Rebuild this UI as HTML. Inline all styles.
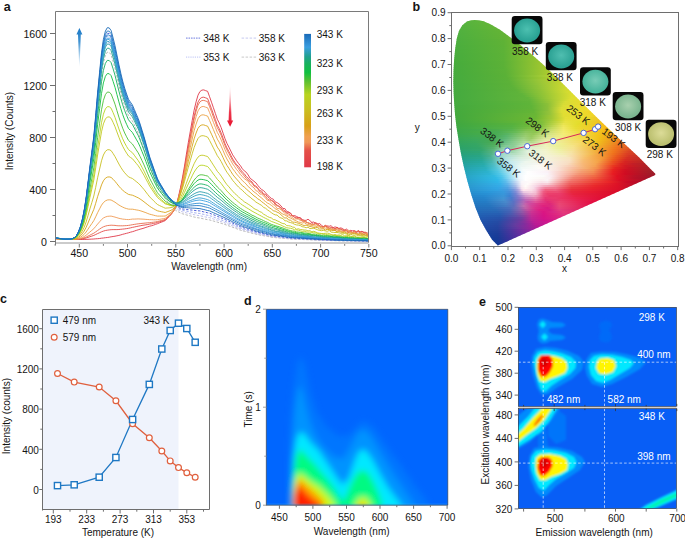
<!DOCTYPE html>
<html><head><meta charset="utf-8"><style>
html,body{margin:0;padding:0;background:#fff;}
svg{display:block;font-family:"Liberation Sans", sans-serif;}
</style></head><body>
<svg width="685" height="539" viewBox="0 0 685 539">
<rect width="685" height="539" fill="#fff"/>
<text x="3.8" y="11.2" font-size="12.5" text-anchor="start" fill="#141414" font-weight="bold" >a</text>
<defs><clipPath id="clipa"><rect x="55.5" y="11.5" width="313.0" height="231.5"/></clipPath></defs>
<g clip-path="url(#clipa)" fill="none" stroke-width="0.9" stroke-linejoin="round">
<polyline points="55.2,238.4 57.1,238.7 59,238.9 61,239.2 62.9,239.3 64.8,239.5 66.8,239.5 68.7,239.5 70.6,239.3 72.5,239 74.5,238 76.4,236.4 78.3,233.3 80.3,228.7 82.2,222.5 84.1,214.4 86.1,203 88,189.4 89.9,175.4 91.8,162.3 93.8,148.3 95.7,129.9 97.6,110 99.6,91.7 101.5,74.5 103.4,62.6 105.4,55.2 107.3,52.2 109.2,52.4 111.1,54.7 113.1,61.4 115,68.2 116.9,76.4 118.9,85 120.8,92.7 122.7,99.6 124.7,105.9 126.6,111.1 128.5,115.8 130.4,118.4 132.4,120.9 134.3,124.8 136.2,128.9 138.2,133 140.1,137.9 142,143.4 144,149.1 145.9,155.1 147.8,161.1 149.7,167.2 151.7,172.2 153.6,177 155.5,181.8 157.5,186.6 159.4,189.7 161.3,192.7 163.3,195.7 165.2,198.6 167.1,200.9 169,203.2 171,205.6 172.9,207.5 174.8,209.3 176.8,211.1 178.7,212 180.6,213 182.6,213.8 184.5,214.3 186.4,214.9 188.3,215.4 190.3,215.9 192.2,216.5 194.1,217 196.1,217.4 198,217.8 199.9,218 201.9,218.5 203.8,218.9 205.7,219.3 207.6,219.7 209.6,219.9 211.5,220.5 213.4,221 215.4,221.6 217.3,222.1 219.2,222.8 221.2,223.3 223.1,223.9 225,224.5 226.9,225.2 228.9,225.9 230.8,226.6 232.7,227.3 234.7,228 236.6,228.7 238.5,229.5 240.5,230.2 242.4,230.8 244.3,231.2 246.2,231.7 248.2,232.2 250.1,232.7 252,233.2 254,233.7 255.9,234.1 257.8,234.6 259.8,235 261.7,235.4 263.6,235.7 265.5,236.1 267.5,236.4 269.4,236.8 271.3,237.2 273.3,237.4 275.2,237.6 277.1,237.8 279.1,237.9 281,238.1 282.9,238.3 284.8,238.4 286.8,238.6 288.7,238.8 290.6,239 292.6,239.1 294.5,239.2 296.4,239.3 298.4,239.3 300.3,239.4 302.2,239.5 304.1,239.6 306.1,239.7 308,239.7 309.9,239.8 311.9,239.9 313.8,240 315.7,240.1 317.7,240.2 319.6,240.3 321.5,240.3 323.4,240.4 325.4,240.4 327.3,240.5 329.2,240.5 331.2,240.6 333.1,240.6 335,240.7 337,240.7 338.9,240.8 340.8,240.8 342.7,240.9 344.7,240.9 346.6,240.9 348.5,241 350.5,241 352.4,241 354.3,241 356.3,241.1 358.2,241.1 360.1,241.1 362,241.2 364,241.2 365.9,241.2 367.8,241.2" stroke="#b0b0b0" stroke-dasharray="2.5,1.5"/>
<polyline points="55.2,238.2 57.1,238.5 59,238.8 61,239 62.9,239.2 64.8,239.4 66.8,239.4 68.7,239.4 70.6,239.2 72.5,238.8 74.5,237.8 76.4,236.1 78.3,232.9 80.3,228 82.2,221.5 84.1,213 86.1,201 88,186.7 89.9,172 91.8,158.2 93.8,143.6 95.7,124.2 97.6,103.2 99.6,84 101.5,66 103.4,53.4 105.4,45.7 107.3,42.5 109.2,42.7 111.1,45.2 113.1,52.1 115,59.4 116.9,67.9 118.9,77 120.8,85.1 122.7,92.3 124.7,99 126.6,104.4 128.5,109.4 130.4,112 132.4,114.7 134.3,118.8 136.2,123.1 138.2,127.3 140.1,132.5 142,138.3 144,144.3 145.9,150.6 147.8,156.9 149.7,163.2 151.7,168.6 153.6,173.6 155.5,178.7 157.5,183.7 159.4,186.9 161.3,190.1 163.3,193.2 165.2,196.3 167.1,198.7 169,201.1 171,203.5 172.9,205.5 174.8,207.5 176.8,209.2 178.7,210.2 180.6,211.2 182.6,211.9 184.5,212.4 186.4,212.9 188.3,213.3 190.3,213.8 192.2,214.3 194.1,214.7 196.1,215.1 198,215.5 199.9,215.7 201.9,216.2 203.8,216.6 205.7,217 207.6,217.4 209.6,217.7 211.5,218.3 213.4,219 215.4,219.6 217.3,220.2 219.2,220.9 221.2,221.6 223.1,222.2 225,222.9 226.9,223.6 228.9,224.4 230.8,225.1 232.7,225.9 234.7,226.7 236.6,227.5 238.5,228.2 240.5,229 242.4,229.7 244.3,230.2 246.2,230.7 248.2,231.2 250.1,231.7 252,232.3 254,232.8 255.9,233.3 257.8,233.9 259.8,234.3 261.7,234.6 263.6,235 265.5,235.4 267.5,235.8 269.4,236.2 271.3,236.6 273.3,236.9 275.2,237.1 277.1,237.3 279.1,237.5 281,237.7 282.9,237.9 284.8,238 286.8,238.2 288.7,238.4 290.6,238.7 292.6,238.8 294.5,238.9 296.4,239 298.4,239 300.3,239.1 302.2,239.2 304.1,239.3 306.1,239.4 308,239.5 309.9,239.6 311.9,239.7 313.8,239.8 315.7,239.9 317.7,240 319.6,240.1 321.5,240.1 323.4,240.2 325.4,240.2 327.3,240.3 329.2,240.4 331.2,240.4 333.1,240.5 335,240.5 337,240.6 338.9,240.6 340.8,240.7 342.7,240.7 344.7,240.8 346.6,240.8 348.5,240.8 350.5,240.9 352.4,240.9 354.3,240.9 356.3,241 358.2,241 360.1,241 362,241.1 364,241.1 365.9,241.1 367.8,241.1" stroke="#b9b9e6" stroke-dasharray="2.5,1.5"/>
<polyline points="55.2,238.1 57.1,238.4 59,238.7 61,238.9 62.9,239.1 64.8,239.3 66.8,239.3 68.7,239.3 70.6,239.1 72.5,238.7 74.5,237.7 76.4,235.9 78.3,232.6 80.3,227.6 82.2,220.8 84.1,212.1 86.1,199.7 88,184.9 89.9,169.8 91.8,155.5 93.8,140.4 95.7,120.4 97.6,98.8 99.6,78.9 101.5,60.3 103.4,47.3 105.4,39.4 107.3,36.1 109.2,36.3 111.1,38.8 113.1,46 115,53.4 116.9,62.3 118.9,71.6 120.8,79.9 122.7,87.5 124.7,94.3 126.6,99.9 128.5,105 130.4,107.8 132.4,110.5 134.3,114.7 136.2,119.1 138.2,123.6 140.1,128.9 142,134.8 144,141 145.9,147.5 147.8,154.1 149.7,160.6 151.7,166.1 153.6,171.3 155.5,176.5 157.5,181.7 159.4,185 161.3,188.2 163.3,191.5 165.2,194.6 167.1,197.1 169,199.6 171,202.1 172.9,204.1 174.8,206.1 176.8,207.8 178.7,208.8 180.6,209.7 182.6,210.4 184.5,210.7 186.4,211.1 188.3,211.5 190.3,211.9 192.2,212.3 194.1,212.7 196.1,213 198,213.3 199.9,213.5 201.9,214 203.8,214.4 205.7,214.9 207.6,215.3 209.6,215.6 211.5,216.3 213.4,217 215.4,217.7 217.3,218.4 219.2,219.2 221.2,219.9 223.1,220.6 225,221.3 226.9,222.1 228.9,222.9 230.8,223.8 232.7,224.6 234.7,225.4 236.6,226.3 238.5,227.1 240.5,228 242.4,228.6 244.3,229.2 246.2,229.7 248.2,230.3 250.1,230.9 252,231.4 254,232 255.9,232.5 257.8,233.1 259.8,233.5 261.7,233.9 263.6,234.4 265.5,234.8 267.5,235.2 269.4,235.6 271.3,236.1 273.3,236.4 275.2,236.6 277.1,236.8 279.1,237 281,237.2 282.9,237.4 284.8,237.6 286.8,237.9 288.7,238.1 290.6,238.3 292.6,238.5 294.5,238.5 296.4,238.6 298.4,238.7 300.3,238.8 302.2,238.9 304.1,239 306.1,239.1 308,239.2 309.9,239.3 311.9,239.4 313.8,239.6 315.7,239.7 317.7,239.8 319.6,239.9 321.5,239.9 323.4,240 325.4,240.1 327.3,240.1 329.2,240.2 331.2,240.2 333.1,240.3 335,240.4 337,240.4 338.9,240.5 340.8,240.5 342.7,240.6 344.7,240.7 346.6,240.7 348.5,240.7 350.5,240.8 352.4,240.8 354.3,240.8 356.3,240.9 358.2,240.9 360.1,240.9 362,241 364,241 365.9,241 367.8,241.1" stroke="#9aa6ee" stroke-dasharray="2.5,1.5"/>
<polyline points="55.2,238 57.1,238.3 59,238.6 61,238.8 62.9,239 64.8,239.2 66.8,239.2 68.7,239.2 70.6,239.1 72.5,238.7 74.5,237.6 76.4,235.8 78.3,232.4 80.3,227.3 82.2,220.5 84.1,211.7 86.1,199.1 88,184.1 89.9,168.8 91.8,154.3 93.8,139 95.7,118.7 97.6,96.8 99.6,76.7 101.5,57.8 103.4,44.7 105.4,36.6 107.3,33.3 109.2,33.5 111.1,36 113.1,43.3 115,50.8 116.9,59.8 118.9,69.2 120.8,77.7 122.7,85.3 124.7,92.2 126.6,97.8 128.5,103.1 130.4,105.8 132.4,108.6 134.3,112.9 136.2,117.3 138.2,121.8 140.1,127.2 142,133.2 144,139.5 145.9,146.1 147.8,152.7 149.7,159.3 151.7,164.8 153.6,170.1 155.5,175.3 157.5,180.6 159.4,184 161.3,187.2 163.3,190.5 165.2,193.7 167.1,196.2 169,198.6 171,201.1 172.9,203.2 174.8,205.1 176.8,206.8 178.7,207.6 180.6,208.5 182.6,209 184.5,209.2 186.4,209.5 188.3,209.7 190.3,209.9 192.2,210.1 194.1,210.4 196.1,210.6 198,210.8 199.9,210.9 201.9,211.4 203.8,211.9 205.7,212.3 207.6,212.8 209.6,213.2 211.5,214 213.4,214.7 215.4,215.5 217.3,216.3 219.2,217.1 221.2,217.9 223.1,218.7 225,219.5 226.9,220.4 228.9,221.3 230.8,222.2 232.7,223.1 234.7,224 236.6,224.9 238.5,225.8 240.5,226.7 242.4,227.4 244.3,228 246.2,228.6 248.2,229.2 250.1,229.8 252,230.4 254,231 255.9,231.6 257.8,232.2 259.8,232.6 261.7,233.1 263.6,233.5 265.5,234 267.5,234.4 269.4,234.9 271.3,235.4 273.3,235.7 275.2,235.9 277.1,236.2 279.1,236.4 281,236.7 282.9,236.9 284.8,237.1 286.8,237.4 288.7,237.6 290.6,237.9 292.6,238 294.5,238.1 296.4,238.2 298.4,238.4 300.3,238.5 302.2,238.6 304.1,238.7 306.1,238.8 308,238.9 309.9,239 311.9,239.1 313.8,239.2 315.7,239.4 317.7,239.5 319.6,239.6 321.5,239.7 323.4,239.7 325.4,239.8 327.3,239.9 329.2,239.9 331.2,240 333.1,240.1 335,240.1 337,240.2 338.9,240.3 340.8,240.3 342.7,240.4 344.7,240.5 346.6,240.5 348.5,240.6 350.5,240.6 352.4,240.6 354.3,240.7 356.3,240.7 358.2,240.7 360.1,240.8 362,240.8 364,240.9 365.9,240.9 367.8,240.9" stroke="#3f51d6" stroke-dasharray="2.5,1.5"/>
<polyline points="55.2,238.6 57.1,238.7 59,238.8 61,239 62.9,239.1 64.8,239.2 66.8,239.2 68.7,239.3 70.6,239.3 72.5,239.4 74.5,239.4 76.4,239.5 78.3,239.5 80.3,239.5 82.2,239.5 84.1,239.4 86.1,239.4 88,239.3 89.9,239.2 91.8,239.1 93.8,239 95.7,238.8 97.6,238.7 99.6,238.5 101.5,238.2 103.4,238 105.4,237.7 107.3,237.5 109.2,237.2 111.1,236.8 113.1,236.5 115,236.2 116.9,235.8 118.9,235.4 120.8,234.9 122.7,234.3 124.7,233.8 126.6,233.3 128.5,232.8 130.4,232.2 132.4,231.7 134.3,231.1 136.2,230.4 138.2,229.8 140.1,229.2 142,228.7 144,228.1 145.9,227.4 147.8,226.8 149.7,226.2 151.7,225.7 153.6,225.1 155.5,224.4 157.5,223.7 159.4,222.9 161.3,222.2 163.3,221.4 165.2,220.6 167.1,218.6 169,216.6 171,214.4 172.9,211.8 174.8,208.5 176.8,203.4 178.7,195.7 180.6,187.2 182.6,176.9 184.5,166.1 186.4,154.2 188.3,142.6 190.3,131.3 192.2,120.5 194.1,110.3 196.1,101.8 198,95.2 199.9,91.6 201.9,90.1 203.8,89.9 205.7,90.7 207.6,91.3 209.6,96.8 211.5,102.2 213.4,107.7 215.4,113.5 217.3,119.2 219.2,122.9 221.2,127.7 223.1,133.2 225,138.7 226.9,143.3 228.9,147.1 230.8,151 232.7,154.9 234.7,157.9 236.6,160.8 238.5,163.4 240.5,165.8 242.4,168.8 244.3,170.9 246.2,172.2 248.2,175 250.1,178.3 252,179.7 254,181.3 255.9,182.8 257.8,185.4 259.8,187.7 261.7,189.6 263.6,190.6 265.5,192.7 267.5,195.1 269.4,196.6 271.3,198.4 273.3,199.2 275.2,201.9 277.1,202.6 279.1,204 281,205.9 282.9,208.5 284.8,208.5 286.8,211.6 288.7,211.9 290.6,214 292.6,215.9 294.5,215.5 296.4,216.4 298.4,217.4 300.3,217.9 302.2,219.4 304.1,220.3 306.1,220.4 308,219.2 309.9,220.7 311.9,222.4 313.8,222 315.7,223.5 317.7,224.1 319.6,223.5 321.5,225.3 323.4,226.7 325.4,226.4 327.3,225.9 329.2,226.3 331.2,225.7 333.1,227.8 335,226.9 337,227.5 338.9,228.4 340.8,227.9 342.7,228.6 344.7,230.3 346.6,228.9 348.5,231.4 350.5,230.4 352.4,230.8 354.3,230.6 356.3,231.9 358.2,231.6 360.1,232 362,231.2 364,233.1 365.9,232.6 367.8,233.2" stroke="#e03848"/>
<polyline points="55.2,238.7 57.1,238.8 59,238.9 61,239 62.9,239.1 64.8,239.2 66.8,239.3 68.7,239.3 70.6,239.3 72.5,239.4 74.5,239.4 76.4,239.4 78.3,239.3 80.3,239.1 82.2,238.8 84.1,238.5 86.1,238 88,237.4 89.9,236.7 91.8,236.1 93.8,235.4 95.7,234.5 97.6,233.6 99.6,232.7 101.5,231.8 103.4,231.1 105.4,230.5 107.3,230.2 109.2,229.9 111.1,229.7 113.1,229.6 115,229.6 116.9,229.6 118.9,229.5 120.8,229.3 122.7,229.1 124.7,228.9 126.6,228.6 128.5,228.3 130.4,227.9 132.4,227.4 134.3,227 136.2,226.6 138.2,226.2 140.1,225.8 142,225.4 144,225.1 145.9,224.8 147.8,224.5 149.7,224.1 151.7,223.8 153.6,223.4 155.5,223 157.5,222.4 159.4,221.9 161.3,221.3 163.3,220.7 165.2,220 167.1,218.2 169,216.4 171,214.4 172.9,212.1 174.8,209 176.8,204.3 178.7,197 180.6,189 182.6,179.3 184.5,169.1 186.4,157.8 188.3,146.9 190.3,136.3 192.2,126.1 194.1,116.4 196.1,108.4 198,102.1 199.9,98.8 201.9,97.4 203.8,97.2 205.7,97.9 207.6,98.6 209.6,103.7 211.5,108.8 213.4,114.1 215.4,119.6 217.3,125.1 219.2,128.5 221.2,133.1 223.1,138.3 225,143.6 226.9,147.9 228.9,151.5 230.8,155.3 232.7,158.9 234.7,162.1 236.6,164.7 238.5,166.3 240.5,169.5 242.4,172.1 244.3,173.7 246.2,176.5 248.2,178.2 250.1,180.7 252,181.9 254,185.2 255.9,186 257.8,188.1 259.8,190.7 261.7,191.1 263.6,194.1 265.5,194.3 267.5,196.7 269.4,198.3 271.3,200.2 273.3,201.2 275.2,204.7 277.1,204.9 279.1,206.9 281,207.8 282.9,209.6 284.8,210.7 286.8,213.2 288.7,212.3 290.6,213 292.6,216.1 294.5,217 296.4,217.6 298.4,217.6 300.3,217.8 302.2,221 304.1,221.3 306.1,222.2 308,222.8 309.9,223.8 311.9,222.6 313.8,224.5 315.7,222.7 317.7,223.8 319.6,226 321.5,226.6 323.4,226.6 325.4,225.2 327.3,227.6 329.2,228.5 331.2,227.6 333.1,227.6 335,228.9 337,227.2 338.9,228.8 340.8,228.9 342.7,230.5 344.7,230.2 346.6,230.6 348.5,232.9 350.5,230.8 352.4,233 354.3,231.6 356.3,233.2 358.2,230.2 360.1,232 362,231.8 364,232 365.9,234.4 367.8,235.5" stroke="#e34748"/>
<polyline points="55.2,238.7 57.1,238.8 59,238.9 61,239 62.9,239.1 64.8,239.2 66.8,239.3 68.7,239.3 70.6,239.3 72.5,239.4 74.5,239.4 76.4,239.3 78.3,239.2 80.3,238.9 82.2,238.4 84.1,237.8 86.1,237.1 88,236.1 89.9,235.2 91.8,234.2 93.8,233.2 95.7,231.9 97.6,230.5 99.6,229.1 101.5,227.8 103.4,226.8 105.4,226.1 107.3,225.6 109.2,225.4 111.1,225.2 113.1,225.3 115,225.4 116.9,225.7 118.9,225.8 120.8,225.8 122.7,225.8 124.7,225.7 126.6,225.6 128.5,225.4 130.4,225.1 132.4,224.7 134.3,224.4 136.2,224.1 138.2,223.8 140.1,223.6 142,223.4 144,223.2 145.9,223 147.8,222.8 149.7,222.7 151.7,222.4 153.6,222.2 155.5,221.9 157.5,221.5 159.4,221 161.3,220.5 163.3,220 165.2,219.5 167.1,217.8 169,216.1 171,214.2 172.9,212 174.8,209 176.8,204.5 178.7,197.4 180.6,189.6 182.6,180.2 184.5,170.3 186.4,159.3 188.3,148.7 190.3,138.3 192.2,128.4 194.1,119 196.1,111.2 198,105.1 199.9,101.9 201.9,100.5 203.8,100.4 205.7,101 207.6,101.7 209.6,106.7 211.5,111.7 213.4,116.9 215.4,122.2 217.3,127.6 219.2,131 221.2,135.4 223.1,140.5 225,145.6 226.9,149.8 228.9,153.5 230.8,157 232.7,160.7 234.7,163.6 236.6,165.9 238.5,168.7 240.5,171.8 242.4,173.6 244.3,176 246.2,178.4 248.2,180.3 250.1,181.7 252,183.2 254,186 255.9,187.1 257.8,188.7 259.8,191.8 261.7,192.9 263.6,194.6 265.5,196.2 267.5,199.1 269.4,199.9 271.3,200.5 273.3,201.9 275.2,203 277.1,206 279.1,205.9 281,208.3 282.9,211.3 284.8,211.3 286.8,213.5 288.7,213.9 290.6,215.5 292.6,215.6 294.5,217.4 296.4,218.6 298.4,218.4 300.3,219.6 302.2,220.9 304.1,220.2 306.1,222.1 308,222.8 309.9,223.3 311.9,224.6 313.8,224.4 315.7,222.9 317.7,225.7 319.6,225.5 321.5,227 323.4,227 325.4,225.5 327.3,226.4 329.2,228.1 331.2,227.9 333.1,229 335,229.3 337,229.8 338.9,230.1 340.8,229.4 342.7,229.5 344.7,230 346.6,230.9 348.5,232.3 350.5,231.4 352.4,232.4 354.3,231 356.3,231.5 358.2,231.6 360.1,232.9 362,234.5 364,232.2 365.9,232.2 367.8,235" stroke="#e96d4e"/>
<polyline points="55.2,238.6 57.1,238.8 59,238.9 61,239 62.9,239.1 64.8,239.2 66.8,239.3 68.7,239.3 70.6,239.3 72.5,239.4 74.5,239.3 76.4,239.1 78.3,238.8 80.3,238.3 82.2,237.6 84.1,236.6 86.1,235.2 88,233.6 89.9,232 91.8,230.4 93.8,228.7 95.7,226.4 97.6,224.1 99.6,221.8 101.5,219.6 103.4,218 105.4,217 107.3,216.4 109.2,216.2 111.1,216.1 113.1,216.6 115,217.1 116.9,217.7 118.9,218.3 120.8,218.7 122.7,219.1 124.7,219.3 126.6,219.5 128.5,219.6 130.4,219.4 132.4,219.1 134.3,219.1 136.2,219 138.2,218.9 140.1,219 142,219.1 144,219.2 145.9,219.4 147.8,219.5 149.7,219.7 151.7,219.7 153.6,219.8 155.5,219.8 157.5,219.7 159.4,219.4 161.3,219 163.3,218.7 165.2,218.3 167.1,216.9 169,215.4 171,213.7 172.9,211.7 174.8,209 176.8,204.8 178.7,198.1 180.6,190.8 182.6,181.9 184.5,172.5 186.4,162.2 188.3,152.1 190.3,142.3 192.2,132.9 194.1,124 196.1,116.7 198,110.9 199.9,107.9 201.9,106.6 203.8,106.5 205.7,107.2 207.6,107.8 209.6,112.6 211.5,117.3 213.4,122.3 215.4,127.4 217.3,132.4 219.2,135.7 221.2,140 223.1,144.8 225,149.7 226.9,153.8 228.9,157.3 230.8,160.6 232.7,164 234.7,166.7 236.6,169.6 238.5,171.7 240.5,174.6 242.4,176.6 244.3,178.6 246.2,180 248.2,181.3 250.1,184.6 252,186.3 254,187.8 255.9,190.7 257.8,191.3 259.8,194.1 261.7,194.2 263.6,195.9 265.5,198.1 267.5,200.5 269.4,200.6 271.3,202.9 273.3,204.5 275.2,205.6 277.1,208.6 279.1,208.6 281,209.6 282.9,211.5 284.8,213.1 286.8,215.3 288.7,215.1 290.6,216.5 292.6,217.7 294.5,219.1 296.4,218.8 298.4,219.2 300.3,220.5 302.2,220.8 304.1,221.1 306.1,221.4 308,223 309.9,223.9 311.9,224.6 313.8,224.7 315.7,224.8 317.7,225 319.6,226.6 321.5,226.6 323.4,228 325.4,226.4 327.3,228.2 329.2,227.9 331.2,229.2 333.1,229.1 335,229.8 337,228.1 338.9,229.6 340.8,230.4 342.7,231.4 344.7,231.5 346.6,230.8 348.5,230.1 350.5,233.1 352.4,232.9 354.3,232.4 356.3,233.1 358.2,234.2 360.1,233 362,232.6 364,234.9 365.9,233.6 367.8,233.2" stroke="#f09a56"/>
<polyline points="55.2,238.6 57.1,238.7 59,238.8 61,239 62.9,239.1 64.8,239.2 66.8,239.3 68.7,239.3 70.6,239.3 72.5,239.3 74.5,239.1 76.4,238.8 78.3,238.3 80.3,237.3 82.2,236 84.1,234.4 86.1,232 88,229.2 89.9,226.3 91.8,223.6 93.8,220.6 95.7,216.8 97.6,212.7 99.6,208.8 101.5,205.2 103.4,202.6 105.4,200.9 107.3,200 109.2,199.8 111.1,200 113.1,201.1 115,202.2 116.9,203.6 118.9,205 120.8,206.1 122.7,207.1 124.7,208 126.6,208.6 128.5,209.1 130.4,209.2 132.4,209.2 134.3,209.5 136.2,209.9 138.2,210.2 140.1,210.7 142,211.3 144,212 145.9,212.7 147.8,213.5 149.7,214.2 151.7,214.7 153.6,215.2 155.5,215.7 157.5,216.1 159.4,216.1 161.3,216.1 163.3,216.1 165.2,216 167.1,214.9 169,213.7 171,212.4 172.9,210.7 174.8,208.4 176.8,204.7 178.7,198.7 180.6,192 182.6,183.9 184.5,175.3 186.4,165.8 188.3,156.6 190.3,147.6 192.2,139 194.1,130.8 196.1,124.1 198,118.8 199.9,116 201.9,114.9 203.8,114.9 205.7,115.5 207.6,116.1 209.6,120.5 211.5,125 213.4,129.6 215.4,134.3 217.3,139.1 219.2,142.2 221.2,146.2 223.1,150.7 225,155.2 226.9,159 228.9,162.3 230.8,165.7 232.7,168.8 234.7,171.3 236.6,174 238.5,176.2 240.5,178.4 242.4,180.7 244.3,182.3 246.2,184.1 248.2,186.6 250.1,188.1 252,190.2 254,191.9 255.9,193.2 257.8,194.9 259.8,196.7 261.7,197.9 263.6,200.1 265.5,201.5 267.5,203.1 269.4,204 271.3,205.4 273.3,206.8 275.2,208.8 277.1,209.7 279.1,210.9 281,213 282.9,214.1 284.8,214.9 286.8,216.1 288.7,217.3 290.6,218.1 292.6,219.2 294.5,220.2 296.4,221 298.4,222 300.3,222.4 302.2,223.1 304.1,222.5 306.1,223.9 308,224.5 309.9,225.1 311.9,225.5 313.8,226 315.7,226.1 317.7,226.9 319.6,227 321.5,228.1 323.4,228 325.4,228.1 327.3,229.4 329.2,229.1 331.2,229.4 333.1,229.9 335,230.3 337,231.3 338.9,230.2 340.8,231.5 342.7,232 344.7,231.4 346.6,232.9 348.5,231.9 350.5,232.3 352.4,232.5 354.3,233 356.3,233.7 358.2,234.3 360.1,232.9 362,234.1 364,234.3 365.9,233.6 367.8,234.9" stroke="#eaa042"/>
<polyline points="55.2,238.4 57.1,238.6 59,238.8 61,238.9 62.9,239 64.8,239.2 66.8,239.2 68.7,239.2 70.6,239.2 72.5,239.1 74.5,238.9 76.4,238.4 78.3,237.4 80.3,235.9 82.2,233.9 84.1,231.2 86.1,227.4 88,223 89.9,218.4 91.8,214 93.8,209.4 95.7,203.3 97.6,196.7 99.6,190.7 101.5,184.9 103.4,180.8 105.4,178.2 107.3,177.1 109.2,176.9 111.1,177.4 113.1,179.3 115,181.3 116.9,183.7 118.9,186.2 120.8,188.4 122.7,190.2 124.7,191.9 126.6,193.2 128.5,194.4 130.4,194.8 132.4,195.2 134.3,196 136.2,196.9 138.2,197.8 140.1,199 142,200.3 144,201.8 145.9,203.3 147.8,204.8 149.7,206.3 151.7,207.6 153.6,208.7 155.5,209.8 157.5,210.8 159.4,211.3 161.3,211.7 163.3,212.1 165.2,212.5 167.1,211.8 169,211.1 171,210.3 172.9,209.1 174.8,207.3 176.8,204.2 178.7,198.9 180.6,193.1 182.6,186 184.5,178.3 186.4,169.9 188.3,161.7 190.3,153.8 192.2,146.2 194.1,138.9 196.1,133 198,128.3 199.9,125.9 201.9,124.9 203.8,124.9 205.7,125.6 207.6,126.2 209.6,130.2 211.5,134.2 213.4,138.4 215.4,142.8 217.3,147.1 219.2,149.9 221.2,153.6 223.1,157.7 225,161.9 226.9,165.3 228.9,168.3 230.8,171.4 232.7,174.4 234.7,176.9 236.6,179.1 238.5,181.2 240.5,183.6 242.4,185.8 244.3,187.1 246.2,188.9 248.2,190.7 250.1,192.3 252,194 254,195.9 255.9,197.1 257.8,198.9 259.8,200 261.7,201.7 263.6,203.1 265.5,204.6 267.5,206.1 269.4,208 271.3,208.8 273.3,210.9 275.2,211.1 277.1,212.2 279.1,213 281,214.8 282.9,216.5 284.8,218 286.8,217.9 288.7,220.1 290.6,220.1 292.6,222.2 294.5,222.2 296.4,222.6 298.4,223.3 300.3,224 302.2,224.9 304.1,225.5 306.1,225.2 308,225.8 309.9,226.5 311.9,226.8 313.8,227.7 315.7,227.3 317.7,227.7 319.6,229 321.5,229 323.4,228.9 325.4,230 327.3,229.1 329.2,229.7 331.2,230.7 333.1,230.5 335,230.4 337,232 338.9,231.5 340.8,232.1 342.7,232.4 344.7,232.3 346.6,233.2 348.5,233.8 350.5,234 352.4,233.6 354.3,233.5 356.3,234 358.2,234.3 360.1,234.4 362,234 364,234.6 365.9,235.4 367.8,235.4" stroke="#d6a519"/>
<polyline points="55.2,238.2 57.1,238.4 59,238.6 61,238.8 62.9,238.9 64.8,239.1 66.8,239.1 68.7,239.2 70.6,239.1 72.5,239 74.5,238.6 76.4,237.8 78.3,236.4 80.3,234.2 82.2,231.3 84.1,227.4 86.1,222 88,215.6 89.9,208.9 91.8,202.7 93.8,196 95.7,187.3 97.6,177.8 99.6,169.1 101.5,160.8 103.4,155 105.4,151.4 107.3,149.8 109.2,149.7 111.1,150.6 113.1,153.5 115,156.6 116.9,160.2 118.9,164 120.8,167.3 122.7,170.2 124.7,172.8 126.6,174.9 128.5,176.9 130.4,177.7 132.4,178.5 134.3,180 136.2,181.5 138.2,183.1 140.1,185 142,187.2 144,189.5 145.9,192 147.8,194.5 149.7,196.9 151.7,198.9 153.6,200.8 155.5,202.7 157.5,204.5 159.4,205.5 161.3,206.4 163.3,207.3 165.2,208.2 167.1,208 169,207.9 171,207.6 172.9,206.9 174.8,205.6 176.8,203.3 178.7,198.9 180.6,194 182.6,188 184.5,181.4 186.4,174.2 188.3,167.2 190.3,160.4 192.2,153.8 194.1,147.6 196.1,142.5 198,138.5 199.9,136.4 201.9,135.7 203.8,135.8 205.7,136.4 207.6,137.1 209.6,140.5 211.5,144.2 213.4,147.9 215.4,151.8 217.3,155.7 219.2,158.3 221.2,161.6 223.1,165.3 225,169 226.9,172.2 228.9,174.9 230.8,177.6 232.7,180.4 234.7,182.7 236.6,185 238.5,187 240.5,188.8 242.4,190.3 244.3,192.4 246.2,193.9 248.2,195.9 250.1,197.1 252,198.9 254,200.3 255.9,202.1 257.8,203.2 259.8,204.4 261.7,205.4 263.6,207.5 265.5,208.2 267.5,209.9 269.4,211.2 271.3,212.6 273.3,214 275.2,214.9 277.1,215 279.1,217.1 281,218 282.9,218.5 284.8,220.8 286.8,220.9 288.7,222.1 290.6,222.6 292.6,223.2 294.5,224.3 296.4,224.9 298.4,225.1 300.3,225.6 302.2,226.7 304.1,227 306.1,227.8 308,227.2 309.9,228.6 311.9,228.4 313.8,228.2 315.7,229 317.7,229.8 319.6,230.4 321.5,230.7 323.4,230.4 325.4,230.9 327.3,231.3 329.2,230.5 331.2,232.2 333.1,232.3 335,232.5 337,232.5 338.9,232.8 340.8,233.3 342.7,233.1 344.7,233.5 346.6,234.1 348.5,235.2 350.5,234 352.4,235 354.3,235 356.3,235 358.2,235.6 360.1,235.6 362,235.4 364,235.8 365.9,235.7 367.8,236.4" stroke="#c8c020"/>
<polyline points="55.2,238.1 57.1,238.4 59,238.6 61,238.8 62.9,238.9 64.8,239.1 66.8,239.1 68.7,239.2 70.6,239.1 72.5,238.9 74.5,238.3 76.4,237.2 78.3,235.3 80.3,232.3 82.2,228.2 84.1,223 86.1,215.5 88,206.7 89.9,197.6 91.8,189.1 93.8,179.9 95.7,167.9 97.6,155 99.6,143 101.5,131.8 103.4,123.9 105.4,119 107.3,117 109.2,116.9 111.1,118.3 113.1,122.4 115,126.7 116.9,131.9 118.9,137.2 120.8,142 122.7,146.2 124.7,150 126.6,153.1 128.5,156 130.4,157.4 132.4,158.7 134.3,161 136.2,163.3 138.2,165.7 140.1,168.6 142,171.9 144,175.3 145.9,178.9 147.8,182.5 149.7,186.1 151.7,189.1 153.6,192 155.5,194.8 157.5,197.5 159.4,199.2 161.3,200.8 163.3,202.3 165.2,203.9 167.1,204.4 169,205 171,205.4 172.9,205.5 174.8,205.1 176.8,203.8 178.7,200.8 180.6,197.4 182.6,193.1 184.5,188.3 186.4,183.1 188.3,177.9 190.3,173 192.2,168.2 194.1,163.7 196.1,160 198,157.1 199.9,155.6 201.9,155.2 203.8,155.4 205.7,156 207.6,156.5 209.6,159.2 211.5,162.1 213.4,165.1 215.4,168.2 217.3,171.3 219.2,173.4 221.2,176.1 223.1,179 225,182 226.9,184.6 228.9,186.8 230.8,189.1 232.7,191.2 234.7,193.4 236.6,195 238.5,196.8 240.5,198.8 242.4,200.1 244.3,201.8 246.2,202.9 248.2,204.2 250.1,205.4 252,206.8 254,208.5 255.9,209.5 257.8,210.3 259.8,211.7 261.7,212.4 263.6,214.2 265.5,215.2 267.5,216.5 269.4,217.4 271.3,217.9 273.3,219.5 275.2,219.8 277.1,220.8 279.1,221.6 281,222.8 282.9,223.6 284.8,223.8 286.8,225.7 288.7,225.7 290.6,226.1 292.6,227.1 294.5,227.3 296.4,229.3 298.4,228.8 300.3,229.5 302.2,229.7 304.1,230 306.1,230.1 308,230.9 309.9,230.7 311.9,231.8 313.8,231.3 315.7,232 317.7,232.9 319.6,233.2 321.5,233.5 323.4,233.5 325.4,233.3 327.3,233.1 329.2,233.5 331.2,234.5 333.1,235.1 335,234.5 337,235.2 338.9,234.9 340.8,235.3 342.7,234.3 344.7,236.1 346.6,235.6 348.5,235.2 350.5,236.2 352.4,236.5 354.3,235.7 356.3,237.2 358.2,237.2 360.1,237.2 362,236.7 364,236.8 365.9,237.2 367.8,236.6" stroke="#c2c820"/>
<polyline points="55.2,238.2 57.1,238.4 59,238.6 61,238.8 62.9,239 64.8,239.2 66.8,239.2 68.7,239.2 70.6,239.1 72.5,238.9 74.5,238.2 76.4,237.1 78.3,235 80.3,231.7 82.2,227.3 84.1,221.6 86.1,213.5 88,203.9 89.9,194.1 91.8,184.8 93.8,174.9 95.7,161.9 97.6,147.8 99.6,134.9 101.5,122.7 103.4,114.2 105.4,108.9 107.3,106.7 109.2,106.7 111.1,108.2 113.1,112.7 115,117.4 116.9,123 118.9,128.9 120.8,134.1 122.7,138.8 124.7,143 126.6,146.5 128.5,149.6 130.4,151.2 132.4,152.7 134.3,155.2 136.2,157.9 138.2,160.5 140.1,163.7 142,167.3 144,171.1 145.9,175.1 147.8,179.1 149.7,183.1 151.7,186.4 153.6,189.6 155.5,192.7 157.5,195.8 159.4,197.7 161.3,199.5 163.3,201.3 165.2,203 167.1,203.9 169,204.7 171,205.4 172.9,205.8 174.8,205.8 176.8,204.9 178.7,202.6 180.6,199.9 182.6,196.4 184.5,192.4 186.4,188.1 188.3,183.9 190.3,179.8 192.2,175.8 194.1,172.1 196.1,169.1 198,166.7 199.9,165.4 201.9,165.2 203.8,165.4 205.7,166 207.6,166.5 209.6,168.8 211.5,171.3 213.4,174 215.4,176.6 217.3,179.3 219.2,181.2 221.2,183.5 223.1,186.1 225,188.7 226.9,191 228.9,193 230.8,195 232.7,197 234.7,198.8 236.6,200.4 238.5,202 240.5,203.6 242.4,205 244.3,206.2 246.2,207.5 248.2,208.7 250.1,209.9 252,211.1 254,212.2 255.9,213.2 257.8,214.3 259.8,215.3 261.7,216.3 263.6,217.4 265.5,218.3 267.5,219.3 269.4,220.3 271.3,221.4 273.3,222.1 275.2,222.8 277.1,223.5 279.1,224.4 281,225.1 282.9,226.1 284.8,226.9 286.8,227.8 288.7,228 290.6,228.3 292.6,228.8 294.5,229.8 296.4,229.9 298.4,230.2 300.3,230.8 302.2,231.4 304.1,231.2 306.1,231.8 308,232.1 309.9,232.1 311.9,232.5 313.8,232.8 315.7,232.9 317.7,233.5 319.6,233.9 321.5,233.9 323.4,234.2 325.4,234.3 327.3,234.6 329.2,234.9 331.2,235 333.1,235.2 335,235.4 337,235.6 338.9,235.7 340.8,235.9 342.7,236.3 344.7,236.2 346.6,236.7 348.5,236.3 350.5,236.9 352.4,236.9 354.3,236.8 356.3,237.2 358.2,237.5 360.1,237.6 362,237.5 364,237.6 365.9,237.6 367.8,237.9" stroke="#b8d420"/>
<polyline points="55.2,238.1 57.1,238.4 59,238.6 61,238.8 62.9,239 64.8,239.2 66.8,239.2 68.7,239.2 70.6,239.1 72.5,238.8 74.5,238.1 76.4,236.9 78.3,234.5 80.3,230.8 82.2,226 84.1,219.6 86.1,210.7 88,200 89.9,189.1 91.8,178.8 93.8,167.8 95.7,153.3 97.6,137.7 99.6,123.3 101.5,109.8 103.4,100.4 105.4,94.6 107.3,92.1 109.2,92.2 111.1,93.9 113.1,99 115,104.2 116.9,110.5 118.9,117.1 120.8,122.9 122.7,128.2 124.7,133 126.6,136.8 128.5,140.4 130.4,142.2 132.4,144 134.3,146.9 136.2,149.8 138.2,152.8 140.1,156.5 142,160.6 144,164.9 145.9,169.4 147.8,173.9 149.7,178.4 151.7,182.2 153.6,185.8 155.5,189.3 157.5,192.8 159.4,195 161.3,197.1 163.3,199.2 165.2,201.2 167.1,202.4 169,203.6 171,204.7 172.9,205.3 174.8,205.7 176.8,205.4 178.7,203.7 180.6,201.8 182.6,199.1 184.5,196 186.4,192.6 188.3,189.3 190.3,186.1 192.2,183 194.1,180.1 196.1,177.7 198,175.8 199.9,174.9 201.9,174.8 203.8,175.1 205.7,175.6 207.6,176.1 209.6,178 211.5,180.2 213.4,182.4 215.4,184.7 217.3,187 219.2,188.7 221.2,190.7 223.1,192.9 225,195.1 226.9,197.1 228.9,198.8 230.8,200.7 232.7,202.4 234.7,204 236.6,205.4 238.5,207 240.5,208.4 242.4,209.6 244.3,210.8 246.2,211.8 248.2,212.9 250.1,214 252,215.2 254,216 255.9,217 257.8,218.1 259.8,218.9 261.7,219.7 263.6,220.7 265.5,221.6 267.5,222.4 269.4,223.4 271.3,224.3 273.3,225 275.2,225.6 277.1,226.2 279.1,226.7 281,227.5 282.9,228 284.8,228.8 286.8,229.5 288.7,230.1 290.6,230.6 292.6,231 294.5,231.2 296.4,231.9 298.4,232 300.3,232.3 302.2,232.5 304.1,233 306.1,233.1 308,233.5 309.9,233.6 311.9,234.3 313.8,234.1 315.7,234.3 317.7,235 319.6,234.8 321.5,235.4 323.4,235.2 325.4,235.5 327.3,235.6 329.2,235.8 331.2,236.2 333.1,236 335,236.2 337,236.7 338.9,236.6 340.8,236.8 342.7,237.1 344.7,237.3 346.6,237.1 348.5,237.5 350.5,237.4 352.4,237.4 354.3,237.7 356.3,238 358.2,237.8 360.1,238.3 362,238.3 364,237.8 365.9,238.5 367.8,238.5" stroke="#49c035"/>
<polyline points="55.2,238 57.1,238.2 59,238.5 61,238.7 62.9,238.9 64.8,239.1 66.8,239.1 68.7,239.1 70.6,239 72.5,238.7 74.5,237.8 76.4,236.4 78.3,233.7 80.3,229.7 82.2,224.2 84.1,217.1 86.1,207 88,195 89.9,182.6 91.8,171 93.8,158.7 95.7,142.4 97.6,124.8 99.6,108.7 101.5,93.5 103.4,82.9 105.4,76.3 107.3,73.6 109.2,73.7 111.1,75.6 113.1,81.4 115,87.3 116.9,94.4 118.9,101.9 120.8,108.5 122.7,114.5 124.7,119.9 126.6,124.3 128.5,128.4 130.4,130.4 132.4,132.5 134.3,135.8 136.2,139.2 138.2,142.6 140.1,146.8 142,151.5 144,156.4 145.9,161.5 147.8,166.6 149.7,171.8 151.7,176.1 153.6,180.1 155.5,184.2 157.5,188.2 159.4,190.7 161.3,193.1 163.3,195.6 165.2,197.9 167.1,199.4 169,200.9 171,202.3 172.9,203.3 174.8,204 176.8,204.1 178.7,202.9 180.6,201.4 182.6,199.2 184.5,196.7 186.4,193.9 188.3,191.2 190.3,188.5 192.2,186 194.1,183.6 196.1,181.6 198,180.1 199.9,179.3 201.9,179.4 203.8,179.7 205.7,180.2 207.6,180.7 209.6,182.4 211.5,184.4 213.4,186.4 215.4,188.5 217.3,190.6 219.2,192.2 221.2,194 223.1,196 225,198.1 226.9,199.9 228.9,201.6 230.8,203.3 232.7,205 234.7,206.5 236.6,207.8 238.5,209.3 240.5,210.7 242.4,211.9 244.3,212.9 246.2,214 248.2,215 250.1,216 252,217.1 254,218.1 255.9,219.1 257.8,220 259.8,220.9 261.7,221.7 263.6,222.5 265.5,223.2 267.5,224 269.4,225 271.3,225.6 273.3,226.5 275.2,226.7 277.1,227.3 279.1,228.2 281,228.7 282.9,229.4 284.8,229.9 286.8,230.6 288.7,231.2 290.6,231.4 292.6,232.1 294.5,232.3 296.4,232.8 298.4,233 300.3,233.1 302.2,233.3 304.1,233.8 306.1,234.1 308,234.2 309.9,234.5 311.9,234.9 313.8,234.9 315.7,235.5 317.7,235.3 319.6,235.7 321.5,235.8 323.4,236.2 325.4,236.3 327.3,236.2 329.2,236.3 331.2,236.5 333.1,236.7 335,237.1 337,237 338.9,237.2 340.8,237.4 342.7,237.3 344.7,237.8 346.6,237.5 348.5,238 350.5,238.1 352.4,238.1 354.3,238.4 356.3,238.4 358.2,238.4 360.1,238.8 362,238.7 364,238.9 365.9,238.9 367.8,238.7" stroke="#10c040"/>
<polyline points="55.2,237.9 57.1,238.1 59,238.4 61,238.7 62.9,238.9 64.8,239.1 66.8,239.1 68.7,239.1 70.6,238.9 72.5,238.6 74.5,237.7 76.4,236.2 78.3,233.2 80.3,228.8 82.2,222.9 84.1,215.2 86.1,204.3 88,191.4 89.9,178 91.8,165.5 93.8,152.2 95.7,134.6 97.6,115.6 99.6,98.2 101.5,81.8 103.4,70.4 105.4,63.3 107.3,60.4 109.2,60.5 111.1,62.6 113.1,68.8 115,75.3 116.9,83 118.9,91.1 120.8,98.3 122.7,104.8 124.7,110.6 126.6,115.4 128.5,119.8 130.4,122.1 132.4,124.4 134.3,128 136.2,131.7 138.2,135.4 140.1,140 142,145.1 144,150.4 145.9,156 147.8,161.6 149.7,167.1 151.7,171.8 153.6,176.2 155.5,180.7 157.5,185.1 159.4,187.8 161.3,190.5 163.3,193.2 165.2,195.8 167.1,197.5 169,199.2 171,200.9 172.9,202.2 174.8,203.1 176.8,203.6 178.7,202.7 180.6,201.6 182.6,200 184.5,197.9 186.4,195.6 188.3,193.4 190.3,191.3 192.2,189.2 194.1,187.3 196.1,185.7 198,184.5 199.9,183.9 201.9,184 203.8,184.4 205.7,184.9 207.6,185.5 209.6,186.9 211.5,188.7 213.4,190.6 215.4,192.4 217.3,194.3 219.2,195.8 221.2,197.5 223.1,199.3 225,201.2 226.9,202.9 228.9,204.4 230.8,206 232.7,207.6 234.7,209 236.6,210.4 238.5,211.6 240.5,213.1 242.4,214.1 244.3,215.2 246.2,216.1 248.2,217 250.1,218.2 252,219 254,219.9 255.9,220.9 257.8,221.8 259.8,222.5 261.7,223.3 263.6,224.1 265.5,224.8 267.5,225.6 269.4,226.5 271.3,227.3 273.3,227.7 275.2,228.4 277.1,228.7 279.1,229.5 281,230.1 282.9,230.4 284.8,231.2 286.8,231.8 288.7,231.9 290.6,232.7 292.6,232.7 294.5,233.3 296.4,233.5 298.4,233.7 300.3,234.3 302.2,234.3 304.1,234.6 306.1,234.7 308,234.9 309.9,235 311.9,235.4 313.8,235.6 315.7,235.5 317.7,235.9 319.6,236.2 321.5,236.7 323.4,236.8 325.4,236.8 327.3,236.9 329.2,237 331.2,236.8 333.1,237.5 335,237.5 337,237.5 338.9,237.7 340.8,237.7 342.7,238 344.7,238.2 346.6,238 348.5,238.3 350.5,238.6 352.4,238.6 354.3,238.6 356.3,238.9 358.2,238.7 360.1,238.9 362,239 364,239.1 365.9,238.9 367.8,239.3" stroke="#18b060"/>
<polyline points="55.2,237.8 57.1,238.1 59,238.4 61,238.6 62.9,238.8 64.8,239 66.8,239 68.7,239 70.6,238.9 72.5,238.5 74.5,237.5 76.4,235.9 78.3,232.8 80.3,228.1 82.2,221.7 84.1,213.5 86.1,201.9 88,188 89.9,173.8 91.8,160.5 93.8,146.2 95.7,127.5 97.6,107.2 99.6,88.5 101.5,71 103.4,58.8 105.4,51.3 107.3,48.2 109.2,48.3 111.1,50.6 113.1,57.3 115,64.2 116.9,72.4 118.9,81.1 120.8,88.8 122.7,95.8 124.7,102.1 126.6,107.2 128.5,112 130.4,114.4 132.4,116.9 134.3,120.7 136.2,124.8 138.2,128.8 140.1,133.7 142,139.1 144,144.8 145.9,150.8 147.8,156.8 149.7,162.8 151.7,167.9 153.6,172.6 155.5,177.4 157.5,182.1 159.4,185.1 161.3,188 163.3,190.9 165.2,193.7 167.1,195.7 169,197.6 171,199.5 172.9,201 174.8,202.2 176.8,202.9 178.7,202.4 180.6,201.7 182.6,200.4 184.5,198.8 186.4,196.9 188.3,195.2 190.3,193.5 192.2,191.8 194.1,190.3 196.1,189 198,188.1 199.9,187.6 201.9,187.8 203.8,188.2 205.7,188.7 207.6,189.3 209.6,190.6 211.5,192.2 213.4,193.9 215.4,195.6 217.3,197.3 219.2,198.7 221.2,200.3 223.1,201.9 225,203.6 226.9,205.2 228.9,206.7 230.8,208.2 232.7,209.6 234.7,211 236.6,212.3 238.5,213.7 240.5,214.9 242.4,215.9 244.3,216.9 246.2,217.9 248.2,218.8 250.1,219.8 252,220.8 254,221.6 255.9,222.6 257.8,223.5 259.8,224 261.7,224.7 263.6,225.4 265.5,226.3 267.5,227 269.4,227.7 271.3,228.5 273.3,229.2 275.2,229.3 277.1,229.9 279.1,230.4 281,231 282.9,231.6 284.8,232 286.8,232.4 288.7,233.1 290.6,233.4 292.6,233.6 294.5,233.8 296.4,234.2 298.4,234.5 300.3,234.9 302.2,234.7 304.1,235.2 306.1,235.3 308,235.6 309.9,235.9 311.9,235.7 313.8,236.1 315.7,236.2 317.7,236.7 319.6,236.8 321.5,236.8 323.4,237.1 325.4,237.3 327.3,237.5 329.2,237.7 331.2,237.5 333.1,237.7 335,238.1 337,237.8 338.9,237.9 340.8,238.1 342.7,238.6 344.7,238.5 346.6,238.4 348.5,238.8 350.5,238.9 352.4,238.9 354.3,239.2 356.3,239 358.2,239 360.1,239.1 362,239.1 364,239.3 365.9,239.4 367.8,239.5" stroke="#20a090"/>
<polyline points="55.2,237.8 57.1,238.1 59,238.4 61,238.6 62.9,238.8 64.8,239 66.8,239 68.7,239.1 70.6,238.9 72.5,238.5 74.5,237.5 76.4,235.8 78.3,232.7 80.3,227.8 82.2,221.4 84.1,213 86.1,201.1 88,186.9 89.9,172.4 91.8,158.7 93.8,144.2 95.7,125 97.6,104.3 99.6,85.2 101.5,67.3 103.4,54.9 105.4,47.2 107.3,44 109.2,44.2 111.1,46.5 113.1,53.4 115,60.4 116.9,68.9 118.9,77.7 120.8,85.7 122.7,92.8 124.7,99.2 126.6,104.5 128.5,109.4 130.4,111.9 132.4,114.4 134.3,118.4 136.2,122.5 138.2,126.7 140.1,131.7 142,137.3 144,143.1 145.9,149.3 147.8,155.5 149.7,161.6 151.7,166.8 153.6,171.7 155.5,176.6 157.5,181.4 159.4,184.5 161.3,187.5 163.3,190.5 165.2,193.4 167.1,195.4 169,197.5 171,199.5 172.9,201.1 174.8,202.5 176.8,203.4 178.7,203.1 180.6,202.7 182.6,201.8 184.5,200.5 186.4,199 188.3,197.6 190.3,196.3 192.2,195 194.1,193.8 196.1,192.8 198,192.1 199.9,191.7 201.9,192 203.8,192.4 205.7,192.9 207.6,193.4 209.6,194.5 211.5,196 213.4,197.6 215.4,199.1 217.3,200.7 219.2,201.9 221.2,203.4 223.1,204.9 225,206.4 226.9,207.9 228.9,209.2 230.8,210.6 232.7,212 234.7,213.3 236.6,214.6 238.5,215.7 240.5,217 242.4,218 244.3,218.9 246.2,219.7 248.2,220.6 250.1,221.6 252,222.4 254,223.2 255.9,223.9 257.8,224.9 259.8,225.6 261.7,226.3 263.6,226.8 265.5,227.7 267.5,228.3 269.4,229 271.3,229.8 273.3,230.3 275.2,230.9 277.1,231.2 279.1,231.5 281,232 282.9,232.7 284.8,232.8 286.8,233.5 288.7,233.8 290.6,234 292.6,234.4 294.5,234.7 296.4,234.8 298.4,235.2 300.3,235.3 302.2,235.7 304.1,235.8 306.1,236 308,236 309.9,236.4 311.9,236.6 313.8,237 315.7,237.1 317.7,237 319.6,237.3 321.5,237.5 323.4,237.5 325.4,237.7 327.3,237.8 329.2,238 331.2,238.3 333.1,238.1 335,238.1 337,238.2 338.9,238.5 340.8,238.6 342.7,238.7 344.7,238.7 346.6,238.8 348.5,239.1 350.5,239.1 352.4,239.2 354.3,239.3 356.3,239.4 358.2,239.4 360.1,239.8 362,239.5 364,239.7 365.9,239.8 367.8,239.8" stroke="#299fac"/>
<polyline points="55.2,237.8 57.1,238.1 59,238.4 61,238.6 62.9,238.9 64.8,239.1 66.8,239.1 68.7,239.1 70.6,238.9 72.5,238.5 74.5,237.5 76.4,235.8 78.3,232.6 80.3,227.7 82.2,221.1 84.1,212.6 86.1,200.6 88,186.2 89.9,171.5 91.8,157.7 93.8,142.9 95.7,123.5 97.6,102.4 99.6,83.2 101.5,65 103.4,52.4 105.4,44.6 107.3,41.4 109.2,41.6 111.1,43.9 113.1,50.9 115,58.1 116.9,66.6 118.9,75.7 120.8,83.7 122.7,90.9 124.7,97.5 126.6,102.8 128.5,107.8 130.4,110.3 132.4,112.9 134.3,117 136.2,121.2 138.2,125.4 140.1,130.5 142,136.2 144,142.1 145.9,148.4 147.8,154.6 149.7,160.9 151.7,166.1 153.6,171.1 155.5,176.1 157.5,181 159.4,184.2 161.3,187.2 163.3,190.2 165.2,193.2 167.1,195.4 169,197.5 171,199.6 172.9,201.3 174.8,202.7 176.8,203.8 178.7,203.6 180.6,203.4 182.6,202.7 184.5,201.7 186.4,200.5 188.3,199.3 190.3,198.2 192.2,197.2 194.1,196.2 196.1,195.4 198,194.8 199.9,194.5 201.9,194.8 203.8,195.2 205.7,195.7 207.6,196.3 209.6,197.3 211.5,198.7 213.4,200.1 215.4,201.5 217.3,203 219.2,204.2 221.2,205.5 223.1,206.9 225,208.3 226.9,209.7 228.9,211 230.8,212.3 232.7,213.6 234.7,214.8 236.6,216.1 238.5,217.2 240.5,218.5 242.4,219.4 244.3,220.2 246.2,221.1 248.2,221.9 250.1,222.7 252,223.6 254,224.5 255.9,225.2 257.8,225.9 259.8,226.6 261.7,227.2 263.6,227.8 265.5,228.6 267.5,229.2 269.4,229.7 271.3,230.4 273.3,231 275.2,231.5 277.1,231.7 279.1,232.2 281,232.7 282.9,233.1 284.8,233.5 286.8,233.9 288.7,234.1 290.6,234.8 292.6,234.9 294.5,235.3 296.4,235.5 298.4,235.5 300.3,236 302.2,236.1 304.1,236.3 306.1,236.5 308,236.5 309.9,236.6 311.9,237 313.8,237 315.7,237.4 317.7,237.2 319.6,237.7 321.5,237.8 323.4,237.9 325.4,238 327.3,238.1 329.2,238.4 331.2,238.2 333.1,238.4 335,238.6 337,238.8 338.9,238.7 340.8,238.8 342.7,239.2 344.7,239.2 346.6,239.2 348.5,239.4 350.5,239.4 352.4,239.4 354.3,239.4 356.3,239.4 358.2,239.5 360.1,239.6 362,239.8 364,240.1 365.9,239.8 367.8,239.9" stroke="#2f9fbe"/>
<polyline points="55.2,237.8 57.1,238.1 59,238.4 61,238.7 62.9,238.9 64.8,239.1 66.8,239.1 68.7,239.1 70.6,238.9 72.5,238.6 74.5,237.5 76.4,235.8 78.3,232.5 80.3,227.6 82.2,221 84.1,212.4 86.1,200.2 88,185.7 89.9,170.8 91.8,156.9 93.8,142 95.7,122.3 97.6,101.1 99.6,81.6 101.5,63.3 103.4,50.5 105.4,42.7 107.3,39.4 109.2,39.6 111.1,42 113.1,49.1 115,56.3 116.9,65 118.9,74.1 120.8,82.2 122.7,89.5 124.7,96.2 126.6,101.6 128.5,106.6 130.4,109.2 132.4,111.9 134.3,115.9 136.2,120.2 138.2,124.5 140.1,129.6 142,135.4 144,141.4 145.9,147.8 147.8,154.1 149.7,160.4 151.7,165.7 153.6,170.8 155.5,175.8 157.5,180.9 159.4,184 161.3,187.1 163.3,190.2 165.2,193.2 167.1,195.5 169,197.7 171,199.9 172.9,201.6 174.8,203.2 176.8,204.3 178.7,204.4 180.6,204.4 182.6,204 184.5,203.2 186.4,202.3 188.3,201.4 190.3,200.6 192.2,199.8 194.1,199.1 196.1,198.5 198,198 199.9,197.9 201.9,198.2 203.8,198.6 205.7,199.1 207.6,199.6 209.6,200.5 211.5,201.8 213.4,203.1 215.4,204.4 217.3,205.7 219.2,206.8 221.2,208 223.1,209.3 225,210.6 226.9,211.9 228.9,213.1 230.8,214.3 232.7,215.5 234.7,216.6 236.6,217.9 238.5,218.9 240.5,220.1 242.4,221 244.3,221.9 246.2,222.6 248.2,223.4 250.1,224.2 252,224.8 254,225.6 255.9,226.5 257.8,227.4 259.8,227.8 261.7,228.6 263.6,229.1 265.5,229.6 267.5,230.2 269.4,230.9 271.3,231.4 273.3,232 275.2,232.4 277.1,232.7 279.1,233 281,233.5 282.9,233.9 284.8,234.2 286.8,234.8 288.7,235.1 290.6,235.5 292.6,235.6 294.5,235.9 296.4,236.1 298.4,236.3 300.3,236.3 302.2,236.5 304.1,236.7 306.1,236.9 308,237 309.9,237.2 311.9,237.3 313.8,237.6 315.7,237.8 317.7,237.9 319.6,238 321.5,238 323.4,238.4 325.4,238.5 327.3,238.4 329.2,238.5 331.2,238.8 333.1,238.8 335,238.9 337,238.9 338.9,238.8 340.8,239.3 342.7,239.3 344.7,239.4 346.6,239.4 348.5,239.5 350.5,239.6 352.4,239.8 354.3,239.8 356.3,239.7 358.2,239.8 360.1,239.9 362,239.9 364,240.1 365.9,240 367.8,240.2" stroke="#369ed2"/>
<polyline points="55.2,237.8 57.1,238.2 59,238.5 61,238.7 62.9,238.9 64.8,239.1 66.8,239.1 68.7,239.1 70.6,238.9 72.5,238.6 74.5,237.5 76.4,235.8 78.3,232.5 80.3,227.5 82.2,220.9 84.1,212.2 86.1,200 88,185.4 89.9,170.4 91.8,156.3 93.8,141.3 95.7,121.6 97.6,100.2 99.6,80.6 101.5,62.1 103.4,49.3 105.4,41.4 107.3,38.1 109.2,38.3 111.1,40.7 113.1,47.8 115,55.2 116.9,63.9 118.9,73.1 120.8,81.2 122.7,88.6 124.7,95.3 126.6,100.8 128.5,105.8 130.4,108.5 132.4,111.1 134.3,115.3 136.2,119.6 138.2,123.9 140.1,129.1 142,134.9 144,141 145.9,147.4 147.8,153.7 149.7,160.1 151.7,165.5 153.6,170.6 155.5,175.7 157.5,180.7 159.4,184 161.3,187.1 163.3,190.2 165.2,193.3 167.1,195.5 169,197.8 171,200 172.9,201.8 174.8,203.4 176.8,204.7 178.7,204.9 180.6,205.1 182.6,204.8 184.5,204.2 186.4,203.5 188.3,202.8 190.3,202.1 192.2,201.5 194.1,200.9 196.1,200.5 198,200.2 199.9,200 201.9,200.4 203.8,200.8 205.7,201.3 207.6,201.8 209.6,202.6 211.5,203.8 213.4,205 215.4,206.2 217.3,207.4 219.2,208.5 221.2,209.7 223.1,210.9 225,212.1 226.9,213.3 228.9,214.5 230.8,215.6 232.7,216.8 234.7,217.9 236.6,219 238.5,220.1 240.5,221.1 242.4,222.1 244.3,222.8 246.2,223.7 248.2,224.4 250.1,225.1 252,225.9 254,226.5 255.9,227.2 257.8,227.9 259.8,228.7 261.7,229.4 263.6,230 265.5,230.4 267.5,231.1 269.4,231.5 271.3,232.3 273.3,232.5 275.2,233 277.1,233.5 279.1,233.7 281,234 282.9,234.4 284.8,234.8 286.8,235.1 288.7,235.4 290.6,235.8 292.6,236 294.5,236.4 296.4,236.3 298.4,236.7 300.3,236.8 302.2,237 304.1,237 306.1,237.2 308,237.5 309.9,237.5 311.9,237.7 313.8,237.8 315.7,238 317.7,238.2 319.6,238.3 321.5,238.6 323.4,238.5 325.4,238.6 327.3,238.8 329.2,238.8 331.2,238.8 333.1,238.9 335,239 337,239.1 338.9,239.3 340.8,239.2 342.7,239.5 344.7,239.6 346.6,239.5 348.5,239.8 350.5,239.7 352.4,239.9 354.3,239.8 356.3,239.8 358.2,240 360.1,240 362,240 364,240.2 365.9,240.2 367.8,240.3" stroke="#3a9ee0"/>
<polyline points="55.2,237.9 57.1,238.2 59,238.5 61,238.7 62.9,238.9 64.8,239.1 66.8,239.1 68.7,239.1 70.6,239 72.5,238.6 74.5,237.5 76.4,235.8 78.3,232.4 80.3,227.4 82.2,220.6 84.1,211.8 86.1,199.3 88,184.5 89.9,169.3 91.8,155 93.8,139.8 95.7,119.6 97.6,97.9 99.6,78 101.5,59.3 103.4,46.2 105.4,38.2 107.3,34.9 109.2,35 111.1,37.5 113.1,44.8 115,52.2 116.9,61.1 118.9,70.4 120.8,78.8 122.7,86.3 124.7,93.1 126.6,98.7 128.5,103.8 130.4,106.5 132.4,109.2 134.3,113.4 136.2,117.8 138.2,122.2 140.1,127.5 142,133.5 144,139.7 145.9,146.2 147.8,152.7 149.7,159.2 151.7,164.6 153.6,169.8 155.5,175 157.5,180.2 159.4,183.5 161.3,186.7 163.3,189.9 165.2,193 167.1,195.4 169,197.7 171,200 172.9,201.9 174.8,203.7 176.8,205.1 178.7,205.5 180.6,205.9 182.6,205.9 184.5,205.5 186.4,205.1 188.3,204.7 190.3,204.3 192.2,204 194.1,203.7 196.1,203.4 198,203.3 199.9,203.2 201.9,203.6 203.8,204.1 205.7,204.6 207.6,205 209.6,205.7 211.5,206.8 213.4,207.9 215.4,209 217.3,210 219.2,211 221.2,212.1 223.1,213.2 225,214.3 226.9,215.4 228.9,216.5 230.8,217.6 232.7,218.7 234.7,219.7 236.6,220.7 238.5,221.7 240.5,222.8 242.4,223.6 244.3,224.4 246.2,225 248.2,225.7 250.1,226.5 252,227.2 254,227.9 255.9,228.6 257.8,229.3 259.8,229.8 261.7,230.4 263.6,231 265.5,231.4 267.5,232 269.4,232.7 271.3,233.2 273.3,233.6 275.2,234 277.1,234.2 279.1,234.6 281,234.9 282.9,235.1 284.8,235.3 286.8,235.7 288.7,236.1 290.6,236.3 292.6,236.6 294.5,236.6 296.4,236.9 298.4,237.1 300.3,237.1 302.2,237.3 304.1,237.5 306.1,237.8 308,237.9 309.9,238.1 311.9,238 313.8,238.3 315.7,238.3 317.7,238.5 319.6,238.8 321.5,238.8 323.4,238.9 325.4,239 327.3,239.1 329.2,239.1 331.2,239.3 333.1,239.3 335,239.5 337,239.6 338.9,239.6 340.8,239.9 342.7,239.9 344.7,239.9 346.6,239.8 348.5,239.9 350.5,240.1 352.4,239.9 354.3,240.1 356.3,240.2 358.2,240.2 360.1,240.1 362,240.3 364,240.4 365.9,240.5 367.8,240.4" stroke="#308ed4"/>
<polyline points="55.2,237.9 57.1,238.2 59,238.5 61,238.7 62.9,238.9 64.8,239.1 66.8,239.1 68.7,239.1 70.6,239 72.5,238.6 74.5,237.5 76.4,235.7 78.3,232.3 80.3,227.1 82.2,220.2 84.1,211.3 86.1,198.6 88,183.4 89.9,167.9 91.8,153.4 93.8,137.8 95.7,117.3 97.6,95.2 99.6,74.9 101.5,55.8 103.4,42.5 105.4,34.3 107.3,31 109.2,31.2 111.1,33.7 113.1,41.1 115,48.7 116.9,57.7 118.9,67.3 120.8,75.8 122.7,83.4 124.7,90.4 126.6,96.1 128.5,101.3 130.4,104.1 132.4,106.9 134.3,111.2 136.2,115.7 138.2,120.2 140.1,125.6 142,131.7 144,138 145.9,144.6 147.8,151.3 149.7,157.9 151.7,163.5 153.6,168.8 155.5,174.1 157.5,179.4 159.4,182.8 161.3,186 163.3,189.3 165.2,192.5 167.1,195 169,197.4 171,199.8 172.9,201.8 174.8,203.6 176.8,205.2 178.7,205.8 180.6,206.3 182.6,206.5 184.5,206.4 186.4,206.2 188.3,206.1 190.3,205.9 192.2,205.8 194.1,205.7 196.1,205.6 198,205.6 199.9,205.7 201.9,206.1 203.8,206.6 205.7,207 207.6,207.5 209.6,208.1 211.5,209.1 213.4,210 215.4,211 217.3,212 219.2,213 221.2,213.9 223.1,214.9 225,215.9 226.9,217 228.9,218 230.8,219 232.7,220.1 234.7,221.1 236.6,222 238.5,223 240.5,224.1 242.4,224.9 244.3,225.5 246.2,226.1 248.2,226.9 250.1,227.7 252,228.2 254,228.8 255.9,229.5 257.8,230.2 259.8,230.7 261.7,231.3 263.6,231.7 265.5,232.2 267.5,232.8 269.4,233.4 271.3,233.9 273.3,234.2 275.2,234.6 277.1,234.8 279.1,235.1 281,235.5 282.9,235.7 284.8,236 286.8,236.1 288.7,236.5 290.6,237 292.6,237.1 294.5,237.4 296.4,237.3 298.4,237.5 300.3,237.6 302.2,237.9 304.1,237.8 306.1,238 308,238.2 309.9,238.4 311.9,238.5 313.8,238.5 315.7,238.7 317.7,238.9 319.6,239 321.5,239.2 323.4,239.2 325.4,239.4 327.3,239.3 329.2,239.4 331.2,239.5 333.1,239.6 335,239.8 337,239.9 338.9,239.9 340.8,240 342.7,240 344.7,240 346.6,240.1 348.5,240.3 350.5,240.3 352.4,240.2 354.3,240.5 356.3,240.4 358.2,240.3 360.1,240.5 362,240.5 364,240.5 365.9,240.7 367.8,240.7" stroke="#247ac4"/>
<polyline points="55.2,237.9 57.1,238.2 59,238.5 61,238.7 62.9,239 64.8,239.2 66.8,239.2 68.7,239.2 70.6,239 72.5,238.6 74.5,237.5 76.4,235.7 78.3,232.2 80.3,226.9 82.2,219.9 84.1,210.8 86.1,197.9 88,182.6 89.9,166.8 91.8,152 93.8,136.3 95.7,115.4 97.6,92.9 99.6,72.3 101.5,52.9 103.4,39.4 105.4,31.1 107.3,27.7 109.2,27.9 111.1,30.5 113.1,38 115,45.7 116.9,54.9 118.9,64.6 120.8,73.3 122.7,81.1 124.7,88.2 126.6,94 128.5,99.3 130.4,102.1 132.4,105 134.3,109.4 136.2,113.9 138.2,118.5 140.1,124 142,130.2 144,136.6 145.9,143.4 147.8,150.2 149.7,156.9 151.7,162.6 153.6,168 155.5,173.4 157.5,178.8 159.4,182.3 161.3,185.6 163.3,188.9 165.2,192.2 167.1,194.7 169,197.3 171,199.8 172.9,201.9 174.8,203.8 176.8,205.5 178.7,206.3 180.6,207.1 182.6,207.5 184.5,207.6 186.4,207.7 188.3,207.8 190.3,208 192.2,208.1 194.1,208.2 196.1,208.3 198,208.5 199.9,208.6 201.9,209.1 203.8,209.5 205.7,210 207.6,210.5 209.6,210.9 211.5,211.8 213.4,212.7 215.4,213.6 217.3,214.4 219.2,215.3 221.2,216.2 223.1,217 225,217.9 226.9,218.9 228.9,219.8 230.8,220.8 232.7,221.8 234.7,222.7 236.6,223.5 238.5,224.6 240.5,225.5 242.4,226.3 244.3,226.9 246.2,227.5 248.2,228.2 250.1,228.8 252,229.5 254,230.1 255.9,230.9 257.8,231.4 259.8,231.9 261.7,232.3 263.6,232.8 265.5,233.4 267.5,233.9 269.4,234.2 271.3,234.9 273.3,235.1 275.2,235.4 277.1,235.6 279.1,236 281,236.1 282.9,236.5 284.8,236.6 286.8,237 288.7,237.3 290.6,237.5 292.6,237.6 294.5,237.9 296.4,237.9 298.4,238.1 300.3,238.1 302.2,238.2 304.1,238.5 306.1,238.5 308,238.7 309.9,238.8 311.9,238.8 313.8,239.1 315.7,239.1 317.7,239.4 319.6,239.2 321.5,239.6 323.4,239.5 325.4,239.6 327.3,239.6 329.2,239.8 331.2,239.9 333.1,240 335,239.9 337,240.2 338.9,240 340.8,240.1 342.7,240.1 344.7,240.4 346.6,240.4 348.5,240.4 350.5,240.4 352.4,240.6 354.3,240.5 356.3,240.7 358.2,240.6 360.1,240.7 362,240.7 364,240.8 365.9,240.7 367.8,241" stroke="#1a6ab8"/>
</g>
<path d="M55.5,245 V11.5 H368.5 V243.0" fill="none" stroke="#7a7a7a" stroke-width="1"/>
<rect x="56.0" y="242" width="312.5" height="2" fill="#cbcbcb"/>
<line x1="50" y1="241.5" x2="55.5" y2="241.5" stroke="#6e6e6e" stroke-width="1" />
<text x="47" y="245.8" font-size="10.6" text-anchor="end" fill="#141414" >0</text>
<line x1="52.5" y1="215.5" x2="55.5" y2="215.5" stroke="#6e6e6e" stroke-width="1" />
<line x1="50" y1="189.5" x2="55.5" y2="189.5" stroke="#6e6e6e" stroke-width="1" />
<text x="47" y="193.8" font-size="10.6" text-anchor="end" fill="#141414" >400</text>
<line x1="52.5" y1="163.5" x2="55.5" y2="163.5" stroke="#6e6e6e" stroke-width="1" />
<line x1="50" y1="137.5" x2="55.5" y2="137.5" stroke="#6e6e6e" stroke-width="1" />
<text x="47" y="141.8" font-size="10.6" text-anchor="end" fill="#141414" >800</text>
<line x1="52.5" y1="111.5" x2="55.5" y2="111.5" stroke="#6e6e6e" stroke-width="1" />
<line x1="50" y1="85.5" x2="55.5" y2="85.5" stroke="#6e6e6e" stroke-width="1" />
<text x="47" y="89.8" font-size="10.6" text-anchor="end" fill="#141414" >1200</text>
<line x1="52.5" y1="59.5" x2="55.5" y2="59.5" stroke="#6e6e6e" stroke-width="1" />
<line x1="50" y1="33.5" x2="55.5" y2="33.5" stroke="#6e6e6e" stroke-width="1" />
<text x="47" y="37.8" font-size="10.6" text-anchor="end" fill="#141414" >1600</text>
<line x1="55.2" y1="244" x2="55.2" y2="245.8" stroke="#7a7a7a" stroke-width="1" />
<line x1="79.3" y1="244" x2="79.3" y2="247.5" stroke="#7a7a7a" stroke-width="1" />
<text x="79.3" y="257.2" font-size="10.6" text-anchor="middle" fill="#141414" >450</text>
<line x1="103.4" y1="244" x2="103.4" y2="245.8" stroke="#7a7a7a" stroke-width="1" />
<line x1="127.5" y1="244" x2="127.5" y2="247.5" stroke="#7a7a7a" stroke-width="1" />
<text x="127.5" y="257.2" font-size="10.6" text-anchor="middle" fill="#141414" >500</text>
<line x1="151.7" y1="244" x2="151.7" y2="245.8" stroke="#7a7a7a" stroke-width="1" />
<line x1="175.8" y1="244" x2="175.8" y2="247.5" stroke="#7a7a7a" stroke-width="1" />
<text x="175.8" y="257.2" font-size="10.6" text-anchor="middle" fill="#141414" >550</text>
<line x1="199.9" y1="244" x2="199.9" y2="245.8" stroke="#7a7a7a" stroke-width="1" />
<line x1="224.1" y1="244" x2="224.1" y2="247.5" stroke="#7a7a7a" stroke-width="1" />
<text x="224.1" y="257.2" font-size="10.6" text-anchor="middle" fill="#141414" >600</text>
<line x1="248.2" y1="244" x2="248.2" y2="245.8" stroke="#7a7a7a" stroke-width="1" />
<line x1="272.3" y1="244" x2="272.3" y2="247.5" stroke="#7a7a7a" stroke-width="1" />
<text x="272.3" y="257.2" font-size="10.6" text-anchor="middle" fill="#141414" >650</text>
<line x1="296.4" y1="244" x2="296.4" y2="245.8" stroke="#7a7a7a" stroke-width="1" />
<line x1="320.6" y1="244" x2="320.6" y2="247.5" stroke="#7a7a7a" stroke-width="1" />
<text x="320.6" y="257.2" font-size="10.6" text-anchor="middle" fill="#141414" >700</text>
<line x1="344.7" y1="244" x2="344.7" y2="245.8" stroke="#7a7a7a" stroke-width="1" />
<line x1="368.8" y1="244" x2="368.8" y2="247.5" stroke="#7a7a7a" stroke-width="1" />
<text x="368.8" y="257.2" font-size="10.6" text-anchor="middle" fill="#141414" >750</text>
<text x="209.1" y="269.8" font-size="10" text-anchor="middle" fill="#141414" >Wavelength (nm)</text>
<text x="13.2" y="131" font-size="10" text-anchor="middle" fill="#141414" transform="rotate(-90 13.2 131)">Intensity (Counts)</text>
<defs><linearGradient id="cbar" x1="0" y1="1" x2="0" y2="0"><stop offset="0.0" stop-color="#e03848"/><stop offset="0.125" stop-color="#e45048"/><stop offset="0.188" stop-color="#f09858"/><stop offset="0.23" stop-color="#f0a050"/><stop offset="0.31" stop-color="#d8a018"/><stop offset="0.44" stop-color="#c8c020"/><stop offset="0.545" stop-color="#b8d420"/><stop offset="0.64" stop-color="#60c030"/><stop offset="0.71" stop-color="#10c040"/><stop offset="0.78" stop-color="#18b060"/><stop offset="0.83" stop-color="#20a090"/><stop offset="0.9" stop-color="#3a9ee0"/><stop offset="1.0" stop-color="#1a6ab8"/></linearGradient></defs>
<rect x="304.2" y="33.9" width="6.8" height="133.4" fill="url(#cbar)"/>
<text x="316.7" y="37.8" font-size="10" text-anchor="start" fill="#141414" >343 K</text>
<text x="316.7" y="66.6" font-size="10" text-anchor="start" fill="#141414" >323 K</text>
<text x="316.7" y="94.2" font-size="10" text-anchor="start" fill="#141414" >293 K</text>
<text x="316.7" y="117.4" font-size="10" text-anchor="start" fill="#141414" >263 K</text>
<text x="316.7" y="143.8" font-size="10" text-anchor="start" fill="#141414" >233 K</text>
<text x="316.7" y="170.1" font-size="10" text-anchor="start" fill="#141414" >198 K</text>
<line x1="186" y1="38.1" x2="201" y2="38.1" stroke="#4a5ad8" stroke-width="0.8" stroke-dasharray="1.6,0.9"/>
<text x="203.2" y="41.7" font-size="10" text-anchor="start" fill="#141414" >348 K</text>
<line x1="241.6" y1="38.1" x2="256.6" y2="38.1" stroke="#b8bcec" stroke-width="0.8" stroke-dasharray="2.5,1.5"/>
<text x="258.8" y="41.7" font-size="10" text-anchor="start" fill="#141414" >358 K</text>
<line x1="186" y1="57.1" x2="201" y2="57.1" stroke="#aab2f2" stroke-width="0.8" stroke-dasharray="1.2,1"/>
<text x="203.2" y="60.7" font-size="10" text-anchor="start" fill="#141414" >353 K</text>
<line x1="241.6" y1="57.1" x2="256.6" y2="57.1" stroke="#bababa" stroke-width="0.8" stroke-dasharray="2.5,1.5"/>
<text x="258.8" y="60.7" font-size="10" text-anchor="start" fill="#141414" >363 K</text>
<defs><linearGradient id="ab" x1="0" y1="0" x2="0" y2="1"><stop offset="0" stop-color="#1a78c6"/><stop offset="0.35" stop-color="#2a86cc" stop-opacity="0.9"/><stop offset="1" stop-color="#4a9ad6" stop-opacity="0"/></linearGradient><linearGradient id="ar" x1="0" y1="1" x2="0" y2="0"><stop offset="0" stop-color="#e8102c"/><stop offset="0.35" stop-color="#ea2038" stop-opacity="0.9"/><stop offset="1" stop-color="#f06070" stop-opacity="0"/></linearGradient></defs>
<path d="M79.4,27.9 L82.4,34.6 L80.8,34.6 L79.6,67 L79.2,67 L78,34.6 L76.4,34.6 Z" fill="url(#ab)"/>
<path d="M230.1,126.8 L233.2,120.4 L231.6,120.4 L230.3,86 L229.9,86 L228.6,120.4 L227,120.4 Z" fill="url(#ar)"/>
<text x="412.5" y="11" font-size="12.5" text-anchor="start" fill="#141414" font-weight="bold" >b</text>
<defs><clipPath id="cie"><path d="M497.8,245.6 L492.1,239.8 L486.3,230.5 L480.5,220.1 L475.8,208.5 L471.2,194.6 L467.2,180.6 L463.8,166.7 L460.8,152.8 L458.4,138.9 L456.4,126.4 L455.1,115.2 L454.2,104.1 L453.6,93 L453.3,81.8 L453.5,70.7 L454.1,59.5 L455.2,48.4 L456.8,38.3 L459,30.8 L462.3,25.2 L466.9,21.6 L471,20.3 L474.7,19.9 L479,20.2 L483.6,21.2 L490.5,24.3 L500,29.8 L509.8,36.9 L521,45.6 L532.6,55.3 L543.1,64.6 L553.6,74.6 L564.1,85.1 L574.6,95.6 L581.6,102.6 L600,120.5 L620.7,140.2 L639.2,157.6 L651,169.4 L654.6,172.9 L655.6,174.2 L654.2,175.6 L497.8,245.6 Z"/></clipPath></defs>
<g clip-path="url(#cie)">
<defs><linearGradient id="g1"><stop offset="0.000" stop-color="#51b241"/><stop offset="0.282" stop-color="#6eb834"/><stop offset="0.699" stop-color="#d9d41e"/><stop offset="1.000" stop-color="#efbe12"/></linearGradient><linearGradient id="g2"><stop offset="0.000" stop-color="#50b241"/><stop offset="0.272" stop-color="#6bb734"/><stop offset="0.689" stop-color="#d8d41f"/><stop offset="1.000" stop-color="#efbd12"/></linearGradient><linearGradient id="g3"><stop offset="0.000" stop-color="#50b241"/><stop offset="0.272" stop-color="#6ab634"/><stop offset="0.689" stop-color="#d8d41f"/><stop offset="1.000" stop-color="#efbc13"/></linearGradient><linearGradient id="g4"><stop offset="0.000" stop-color="#4fb140"/><stop offset="0.272" stop-color="#69b634"/><stop offset="0.680" stop-color="#d7d420"/><stop offset="0.990" stop-color="#efbd13"/><stop offset="1.000" stop-color="#efbb13"/></linearGradient><linearGradient id="g5"><stop offset="0.000" stop-color="#4eb140"/><stop offset="0.272" stop-color="#68b634"/><stop offset="0.670" stop-color="#d6d420"/><stop offset="0.971" stop-color="#efbe14"/><stop offset="1.000" stop-color="#efbb13"/></linearGradient><linearGradient id="g6"><stop offset="0.000" stop-color="#4eb040"/><stop offset="0.262" stop-color="#65b435"/><stop offset="0.670" stop-color="#d7d421"/><stop offset="0.971" stop-color="#efbe14"/><stop offset="1.000" stop-color="#efba13"/></linearGradient><linearGradient id="g7"><stop offset="0.000" stop-color="#4db040"/><stop offset="0.262" stop-color="#64b435"/><stop offset="0.660" stop-color="#d6d521"/><stop offset="0.951" stop-color="#efbf15"/><stop offset="1.000" stop-color="#efb914"/></linearGradient><linearGradient id="g8"><stop offset="0.000" stop-color="#4daf40"/><stop offset="0.262" stop-color="#63b435"/><stop offset="0.660" stop-color="#d7d522"/><stop offset="0.951" stop-color="#efbf16"/><stop offset="1.000" stop-color="#efb814"/></linearGradient><linearGradient id="g9"><stop offset="0.000" stop-color="#4caf40"/><stop offset="0.262" stop-color="#63b335"/><stop offset="0.650" stop-color="#d5d522"/><stop offset="0.932" stop-color="#efc117"/><stop offset="1.000" stop-color="#efb714"/></linearGradient><linearGradient id="g10"><stop offset="0.000" stop-color="#4baf3f"/><stop offset="0.262" stop-color="#62b335"/><stop offset="0.650" stop-color="#d6d523"/><stop offset="0.932" stop-color="#efc017"/><stop offset="1.000" stop-color="#efb714"/></linearGradient><linearGradient id="g11"><stop offset="0.000" stop-color="#4bae3f"/><stop offset="0.252" stop-color="#5fb236"/><stop offset="0.650" stop-color="#d7d523"/><stop offset="0.932" stop-color="#efbf17"/><stop offset="1.000" stop-color="#efb615"/></linearGradient><linearGradient id="g12"><stop offset="0.000" stop-color="#4aae3f"/><stop offset="0.252" stop-color="#5eb236"/><stop offset="0.641" stop-color="#d6d624"/><stop offset="0.913" stop-color="#f0c118"/><stop offset="1.000" stop-color="#efb515"/></linearGradient><linearGradient id="g13"><stop offset="0.000" stop-color="#4aae3e"/><stop offset="0.252" stop-color="#5eb236"/><stop offset="0.641" stop-color="#d7d624"/><stop offset="0.913" stop-color="#f0c118"/><stop offset="1.000" stop-color="#eeb415"/></linearGradient><linearGradient id="g14"><stop offset="0.000" stop-color="#49ad3e"/><stop offset="0.252" stop-color="#5db236"/><stop offset="0.631" stop-color="#d6d625"/><stop offset="0.893" stop-color="#f0c319"/><stop offset="1.000" stop-color="#eeb315"/></linearGradient><linearGradient id="g15"><stop offset="0.000" stop-color="#49ad3e"/><stop offset="0.252" stop-color="#5db237"/><stop offset="0.631" stop-color="#d6d725"/><stop offset="0.893" stop-color="#f0c219"/><stop offset="1.000" stop-color="#eeb216"/></linearGradient><linearGradient id="g16"><stop offset="0.000" stop-color="#48ad3d"/><stop offset="0.252" stop-color="#5db237"/><stop offset="0.631" stop-color="#d7d725"/><stop offset="0.893" stop-color="#f0c21a"/><stop offset="1.000" stop-color="#eeb116"/></linearGradient><linearGradient id="g17"><stop offset="0.000" stop-color="#48ad3d"/><stop offset="0.252" stop-color="#5db237"/><stop offset="0.621" stop-color="#d6d726"/><stop offset="0.874" stop-color="#f1c41b"/><stop offset="1.000" stop-color="#eeb016"/></linearGradient><linearGradient id="g18"><stop offset="0.000" stop-color="#48ac3d"/><stop offset="0.252" stop-color="#5cb237"/><stop offset="0.621" stop-color="#d7d726"/><stop offset="0.874" stop-color="#f1c31b"/><stop offset="1.000" stop-color="#eeaf16"/></linearGradient><linearGradient id="g19"><stop offset="0.000" stop-color="#47ac3d"/><stop offset="0.252" stop-color="#5cb237"/><stop offset="0.621" stop-color="#d8d827"/><stop offset="0.874" stop-color="#f1c31b"/><stop offset="1.000" stop-color="#eeae17"/></linearGradient><linearGradient id="g20"><stop offset="0.000" stop-color="#47ac3d"/><stop offset="0.252" stop-color="#5cb237"/><stop offset="0.621" stop-color="#d9d827"/><stop offset="0.874" stop-color="#f1c21b"/><stop offset="1.000" stop-color="#edac17"/></linearGradient><linearGradient id="g21"><stop offset="0.000" stop-color="#47ac3c"/><stop offset="0.252" stop-color="#5cb237"/><stop offset="0.612" stop-color="#d7d928"/><stop offset="0.854" stop-color="#f2c41c"/><stop offset="1.000" stop-color="#edab17"/></linearGradient><linearGradient id="g22"><stop offset="0.000" stop-color="#46ac3c"/><stop offset="0.252" stop-color="#5bb137"/><stop offset="0.612" stop-color="#d8d928"/><stop offset="0.854" stop-color="#f2c41c"/><stop offset="1.000" stop-color="#edaa17"/></linearGradient><linearGradient id="g23"><stop offset="0.000" stop-color="#46ab3c"/><stop offset="0.252" stop-color="#5bb137"/><stop offset="0.612" stop-color="#d9d929"/><stop offset="0.854" stop-color="#f2c31d"/><stop offset="1.000" stop-color="#eda917"/></linearGradient><linearGradient id="g24"><stop offset="0.000" stop-color="#46ab3d"/><stop offset="0.252" stop-color="#5bb137"/><stop offset="0.612" stop-color="#dada29"/><stop offset="0.845" stop-color="#f3c41d"/><stop offset="1.000" stop-color="#eca718"/></linearGradient><linearGradient id="g25"><stop offset="0.000" stop-color="#46ab3d"/><stop offset="0.252" stop-color="#5ab137"/><stop offset="0.612" stop-color="#dbda29"/><stop offset="0.845" stop-color="#f3c41d"/><stop offset="1.000" stop-color="#eca618"/></linearGradient><linearGradient id="g26"><stop offset="0.000" stop-color="#45ab3d"/><stop offset="0.262" stop-color="#5cb237"/><stop offset="0.602" stop-color="#d9db2a"/><stop offset="0.835" stop-color="#f3c51e"/><stop offset="1.000" stop-color="#eba418"/></linearGradient><linearGradient id="g27"><stop offset="0.000" stop-color="#45ab3d"/><stop offset="0.262" stop-color="#5cb137"/><stop offset="0.602" stop-color="#dadb2b"/><stop offset="0.825" stop-color="#f3c61e"/><stop offset="1.000" stop-color="#eba318"/></linearGradient><linearGradient id="g28"><stop offset="0.000" stop-color="#45ab3d"/><stop offset="0.262" stop-color="#5bb137"/><stop offset="0.602" stop-color="#dbdb2b"/><stop offset="0.825" stop-color="#f4c51f"/><stop offset="1.000" stop-color="#eba119"/></linearGradient><linearGradient id="g29"><stop offset="0.000" stop-color="#45ab3e"/><stop offset="0.262" stop-color="#5ab137"/><stop offset="0.456" stop-color="#a9cd34"/><stop offset="0.650" stop-color="#e5db29"/><stop offset="0.893" stop-color="#f2b61c"/><stop offset="1.000" stop-color="#eaa019"/></linearGradient><linearGradient id="g30"><stop offset="0.000" stop-color="#45ab3e"/><stop offset="0.272" stop-color="#5cb137"/><stop offset="0.592" stop-color="#d9dc2c"/><stop offset="0.806" stop-color="#f4c820"/><stop offset="1.000" stop-color="#ea9e19"/></linearGradient><linearGradient id="g31"><stop offset="0.000" stop-color="#45ab3e"/><stop offset="0.272" stop-color="#5bb138"/><stop offset="0.427" stop-color="#9bc737"/><stop offset="0.612" stop-color="#dfdd2b"/><stop offset="0.835" stop-color="#f4c11e"/><stop offset="1.000" stop-color="#e99c19"/></linearGradient><linearGradient id="g32"><stop offset="0.000" stop-color="#45ab3e"/><stop offset="0.282" stop-color="#5cb238"/><stop offset="0.427" stop-color="#99c637"/><stop offset="0.602" stop-color="#dddd2c"/><stop offset="0.816" stop-color="#f5c41f"/><stop offset="1.000" stop-color="#e99b1a"/></linearGradient><linearGradient id="g33"><stop offset="0.000" stop-color="#44ab3f"/><stop offset="0.282" stop-color="#5bb138"/><stop offset="0.417" stop-color="#92c438"/><stop offset="0.583" stop-color="#d9dc2e"/><stop offset="0.777" stop-color="#f5cc22"/><stop offset="1.000" stop-color="#e8991a"/></linearGradient><linearGradient id="g34"><stop offset="0.000" stop-color="#44ab3f"/><stop offset="0.291" stop-color="#5cb238"/><stop offset="0.417" stop-color="#8fc338"/><stop offset="0.563" stop-color="#d3db2f"/><stop offset="0.748" stop-color="#f4d124"/><stop offset="1.000" stop-color="#e7971a"/></linearGradient><linearGradient id="g35"><stop offset="0.000" stop-color="#44ab3f"/><stop offset="0.301" stop-color="#5db239"/><stop offset="0.427" stop-color="#92c438"/><stop offset="0.563" stop-color="#d3db30"/><stop offset="0.738" stop-color="#f4d224"/><stop offset="1.000" stop-color="#e7951a"/></linearGradient><linearGradient id="g36"><stop offset="0.000" stop-color="#44aa3f"/><stop offset="0.311" stop-color="#5db239"/><stop offset="0.427" stop-color="#8fc337"/><stop offset="0.553" stop-color="#d0da31"/><stop offset="0.728" stop-color="#f3d425"/><stop offset="0.990" stop-color="#e7951b"/><stop offset="1.000" stop-color="#e6931b"/></linearGradient><linearGradient id="g37"><stop offset="0.000" stop-color="#44aa3f"/><stop offset="0.320" stop-color="#5eb33a"/><stop offset="0.437" stop-color="#91c437"/><stop offset="0.563" stop-color="#d4dc31"/><stop offset="0.728" stop-color="#f4d425"/><stop offset="0.981" stop-color="#e8951b"/><stop offset="1.000" stop-color="#e5911b"/></linearGradient><linearGradient id="g38"><stop offset="0.000" stop-color="#44aa3f"/><stop offset="0.340" stop-color="#60b43a"/><stop offset="0.447" stop-color="#94c536"/><stop offset="0.583" stop-color="#dcde30"/><stop offset="0.748" stop-color="#f5cf24"/><stop offset="1.000" stop-color="#e48f1b"/></linearGradient><linearGradient id="g39"><stop offset="0.000" stop-color="#44aa3f"/><stop offset="0.350" stop-color="#60b43a"/><stop offset="0.456" stop-color="#96c636"/><stop offset="0.583" stop-color="#ddde30"/><stop offset="0.738" stop-color="#f5d124"/><stop offset="0.990" stop-color="#e58e1b"/><stop offset="1.000" stop-color="#e38c1b"/></linearGradient><linearGradient id="g40"><stop offset="0.000" stop-color="#44aa3f"/><stop offset="0.369" stop-color="#62b53a"/><stop offset="0.476" stop-color="#a0c936"/><stop offset="0.583" stop-color="#dedf31"/><stop offset="0.738" stop-color="#f5d024"/><stop offset="0.990" stop-color="#e48c1c"/><stop offset="1.000" stop-color="#e38a1c"/></linearGradient><linearGradient id="g41"><stop offset="0.000" stop-color="#44aa3f"/><stop offset="0.379" stop-color="#63b53a"/><stop offset="0.476" stop-color="#9cc736"/><stop offset="0.573" stop-color="#ddde32"/><stop offset="0.718" stop-color="#f4d426"/><stop offset="0.951" stop-color="#e9931c"/><stop offset="1.000" stop-color="#e2871c"/></linearGradient><linearGradient id="g42"><stop offset="0.000" stop-color="#44aa3f"/><stop offset="0.379" stop-color="#60b439"/><stop offset="0.476" stop-color="#98c537"/><stop offset="0.553" stop-color="#d8dd35"/><stop offset="0.699" stop-color="#f3d828"/><stop offset="0.913" stop-color="#ee9b1d"/><stop offset="1.000" stop-color="#e1851c"/></linearGradient><linearGradient id="g43"><stop offset="0.000" stop-color="#44aa3f"/><stop offset="0.379" stop-color="#5eb439"/><stop offset="0.466" stop-color="#8bc038"/><stop offset="0.544" stop-color="#d7dc36"/><stop offset="0.689" stop-color="#f2d92a"/><stop offset="0.903" stop-color="#ee9b1d"/><stop offset="1.000" stop-color="#df821c"/></linearGradient><linearGradient id="g44"><stop offset="0.000" stop-color="#43a93e"/><stop offset="0.388" stop-color="#60b438"/><stop offset="0.466" stop-color="#8abf38"/><stop offset="0.544" stop-color="#dcde36"/><stop offset="0.689" stop-color="#f2d929"/><stop offset="0.893" stop-color="#ef9c1d"/><stop offset="1.000" stop-color="#de801d"/></linearGradient><linearGradient id="g45"><stop offset="0.000" stop-color="#43a93e"/><stop offset="0.388" stop-color="#60b438"/><stop offset="0.466" stop-color="#8abf39"/><stop offset="0.534" stop-color="#dadd38"/><stop offset="0.680" stop-color="#f0da2b"/><stop offset="0.883" stop-color="#f09c1d"/><stop offset="1.000" stop-color="#dd7d1d"/></linearGradient><linearGradient id="g46"><stop offset="0.000" stop-color="#43a93d"/><stop offset="0.398" stop-color="#63b437"/><stop offset="0.466" stop-color="#8abf3a"/><stop offset="0.534" stop-color="#ddde37"/><stop offset="0.680" stop-color="#f0da2a"/><stop offset="0.874" stop-color="#f19d1d"/><stop offset="1.000" stop-color="#dc7a1d"/></linearGradient><linearGradient id="g47"><stop offset="0.000" stop-color="#42a93d"/><stop offset="0.398" stop-color="#64b536"/><stop offset="0.476" stop-color="#95c33a"/><stop offset="0.534" stop-color="#dddd35"/><stop offset="0.583" stop-color="#e7e130"/><stop offset="0.718" stop-color="#f5cf23"/><stop offset="0.913" stop-color="#ea8e1e"/><stop offset="1.000" stop-color="#db771e"/></linearGradient><linearGradient id="g48"><stop offset="0.000" stop-color="#42a83d"/><stop offset="0.408" stop-color="#69b636"/><stop offset="0.476" stop-color="#95c33a"/><stop offset="0.544" stop-color="#e1de33"/><stop offset="0.689" stop-color="#f1d627"/><stop offset="0.874" stop-color="#f0971d"/><stop offset="1.000" stop-color="#d9751e"/></linearGradient><linearGradient id="g49"><stop offset="0.000" stop-color="#41a83d"/><stop offset="0.408" stop-color="#6ab735"/><stop offset="0.485" stop-color="#a0c737"/><stop offset="0.544" stop-color="#e0de34"/><stop offset="0.670" stop-color="#eed92a"/><stop offset="0.845" stop-color="#f39f1c"/><stop offset="1.000" stop-color="#d8711f"/></linearGradient><linearGradient id="g50"><stop offset="0.000" stop-color="#41a83d"/><stop offset="0.408" stop-color="#6cb734"/><stop offset="0.485" stop-color="#a1c836"/><stop offset="0.553" stop-color="#e4df36"/><stop offset="0.650" stop-color="#e9db2b"/><stop offset="0.825" stop-color="#f5a41c"/><stop offset="1.000" stop-color="#d66e1f"/></linearGradient><linearGradient id="g51"><stop offset="0.000" stop-color="#40a83e"/><stop offset="0.398" stop-color="#6bb734"/><stop offset="0.476" stop-color="#9bc73b"/><stop offset="0.515" stop-color="#c2d433"/><stop offset="0.553" stop-color="#e5e03b"/><stop offset="0.650" stop-color="#eada2b"/><stop offset="0.816" stop-color="#f5a51b"/><stop offset="1.000" stop-color="#d56b1f"/></linearGradient><linearGradient id="g52"><stop offset="0.000" stop-color="#3fa73f"/><stop offset="0.340" stop-color="#62b538"/><stop offset="0.437" stop-color="#7ebe3a"/><stop offset="0.553" stop-color="#e8e242"/><stop offset="0.621" stop-color="#e4dd2c"/><stop offset="0.767" stop-color="#f7b71a"/><stop offset="0.971" stop-color="#d96e20"/><stop offset="1.000" stop-color="#d36820"/></linearGradient><linearGradient id="g53"><stop offset="0.000" stop-color="#3ea740"/><stop offset="0.301" stop-color="#58b23c"/><stop offset="0.398" stop-color="#71b936"/><stop offset="0.437" stop-color="#80bf3d"/><stop offset="0.544" stop-color="#e9e44f"/><stop offset="0.612" stop-color="#e4dd2d"/><stop offset="0.757" stop-color="#f6ba19"/><stop offset="0.942" stop-color="#de7220"/><stop offset="1.000" stop-color="#d16520"/></linearGradient><linearGradient id="g54"><stop offset="0.000" stop-color="#3da741"/><stop offset="0.291" stop-color="#55b241"/><stop offset="0.398" stop-color="#76bb3a"/><stop offset="0.427" stop-color="#7bbd3c"/><stop offset="0.495" stop-color="#c1d753"/><stop offset="0.544" stop-color="#eee75b"/><stop offset="0.602" stop-color="#e6de31"/><stop offset="0.748" stop-color="#f6bc19"/><stop offset="0.913" stop-color="#e47620"/><stop offset="1.000" stop-color="#cf6221"/></linearGradient><linearGradient id="g55"><stop offset="0.000" stop-color="#3ca744"/><stop offset="0.291" stop-color="#56b346"/><stop offset="0.388" stop-color="#7dbe41"/><stop offset="0.427" stop-color="#82c043"/><stop offset="0.485" stop-color="#c0d95f"/><stop offset="0.544" stop-color="#f1e964"/><stop offset="0.602" stop-color="#e8de36"/><stop offset="0.738" stop-color="#f5bf18"/><stop offset="0.893" stop-color="#e77820"/><stop offset="1.000" stop-color="#cd5e21"/></linearGradient><linearGradient id="g56"><stop offset="0.000" stop-color="#3ba746"/><stop offset="0.214" stop-color="#4aac4c"/><stop offset="0.291" stop-color="#58b44e"/><stop offset="0.369" stop-color="#83c14e"/><stop offset="0.417" stop-color="#87c248"/><stop offset="0.485" stop-color="#c9dd6c"/><stop offset="0.544" stop-color="#f3ea6b"/><stop offset="0.602" stop-color="#eadf3e"/><stop offset="0.738" stop-color="#f5bd17"/><stop offset="0.893" stop-color="#e67420"/><stop offset="1.000" stop-color="#cb5b22"/></linearGradient><linearGradient id="g57"><stop offset="0.000" stop-color="#39a649"/><stop offset="0.146" stop-color="#47ac48"/><stop offset="0.223" stop-color="#49ac54"/><stop offset="0.311" stop-color="#67bb56"/><stop offset="0.359" stop-color="#8ac55c"/><stop offset="0.408" stop-color="#8ec550"/><stop offset="0.476" stop-color="#cbdf78"/><stop offset="0.544" stop-color="#f3eb71"/><stop offset="0.612" stop-color="#edde44"/><stop offset="0.738" stop-color="#f4bc17"/><stop offset="0.883" stop-color="#e77320"/><stop offset="1.000" stop-color="#c95722"/></linearGradient><linearGradient id="g58"><stop offset="0.000" stop-color="#38a64c"/><stop offset="0.136" stop-color="#44ab4c"/><stop offset="0.204" stop-color="#47ab4f"/><stop offset="0.272" stop-color="#58b563"/><stop offset="0.359" stop-color="#93ca68"/><stop offset="0.398" stop-color="#94c857"/><stop offset="0.476" stop-color="#d4e486"/><stop offset="0.544" stop-color="#f4ec77"/><stop offset="0.709" stop-color="#f2c81b"/><stop offset="0.854" stop-color="#ed7a1f"/><stop offset="1.000" stop-color="#c75423"/></linearGradient><linearGradient id="g59"><stop offset="0.000" stop-color="#36a64f"/><stop offset="0.126" stop-color="#41aa51"/><stop offset="0.204" stop-color="#46aa51"/><stop offset="0.262" stop-color="#57b56c"/><stop offset="0.359" stop-color="#9acd71"/><stop offset="0.388" stop-color="#97ca5e"/><stop offset="0.466" stop-color="#d7e691"/><stop offset="0.534" stop-color="#f2ed82"/><stop offset="0.718" stop-color="#f2c218"/><stop offset="0.854" stop-color="#ec7520"/><stop offset="1.000" stop-color="#c55023"/></linearGradient><linearGradient id="g60"><stop offset="0.000" stop-color="#34a553"/><stop offset="0.117" stop-color="#3ea957"/><stop offset="0.194" stop-color="#46a94e"/><stop offset="0.262" stop-color="#5cb774"/><stop offset="0.350" stop-color="#9ed180"/><stop offset="0.388" stop-color="#9dcd66"/><stop offset="0.456" stop-color="#dbe79a"/><stop offset="0.505" stop-color="#edee95"/><stop offset="0.650" stop-color="#f2d744"/><stop offset="0.718" stop-color="#f2c018"/><stop offset="0.854" stop-color="#eb7021"/><stop offset="1.000" stop-color="#c34d23"/></linearGradient><linearGradient id="g61"><stop offset="0.000" stop-color="#32a556"/><stop offset="0.117" stop-color="#3ba85b"/><stop offset="0.204" stop-color="#47a953"/><stop offset="0.252" stop-color="#5cb77a"/><stop offset="0.350" stop-color="#a6d58d"/><stop offset="0.379" stop-color="#a1d173"/><stop offset="0.417" stop-color="#c6de90"/><stop offset="0.456" stop-color="#e3eba6"/><stop offset="0.505" stop-color="#eeef99"/><stop offset="0.641" stop-color="#f3d852"/><stop offset="0.709" stop-color="#f1c41b"/><stop offset="0.845" stop-color="#ed7021"/><stop offset="0.981" stop-color="#c54c24"/><stop offset="1.000" stop-color="#c04a24"/></linearGradient><linearGradient id="g62"><stop offset="0.000" stop-color="#30a45b"/><stop offset="0.117" stop-color="#38a75e"/><stop offset="0.204" stop-color="#4aaa54"/><stop offset="0.233" stop-color="#57b26b"/><stop offset="0.262" stop-color="#6bbe84"/><stop offset="0.320" stop-color="#96d192"/><stop offset="0.359" stop-color="#b4dc9b"/><stop offset="0.388" stop-color="#b4d98a"/><stop offset="0.447" stop-color="#e5ecaf"/><stop offset="0.495" stop-color="#eef0a1"/><stop offset="0.631" stop-color="#f5d960"/><stop offset="0.709" stop-color="#f0c11d"/><stop offset="0.845" stop-color="#ec6a21"/><stop offset="0.981" stop-color="#c24824"/><stop offset="1.000" stop-color="#be4624"/></linearGradient><linearGradient id="g63"><stop offset="0.000" stop-color="#2ea35f"/><stop offset="0.117" stop-color="#35a663"/><stop offset="0.204" stop-color="#4fac59"/><stop offset="0.233" stop-color="#62b66f"/><stop offset="0.262" stop-color="#76c38d"/><stop offset="0.311" stop-color="#92d095"/><stop offset="0.359" stop-color="#c2e4b1"/><stop offset="0.398" stop-color="#c9e3a4"/><stop offset="0.456" stop-color="#ecf0b7"/><stop offset="0.524" stop-color="#eef092"/><stop offset="0.612" stop-color="#f6dd74"/><stop offset="0.709" stop-color="#f0bd21"/><stop offset="0.845" stop-color="#ea6422"/><stop offset="0.971" stop-color="#c24625"/><stop offset="1.000" stop-color="#bb4325"/></linearGradient><linearGradient id="g64"><stop offset="0.000" stop-color="#2ba264"/><stop offset="0.126" stop-color="#34a665"/><stop offset="0.204" stop-color="#54af62"/><stop offset="0.233" stop-color="#6ebc7c"/><stop offset="0.262" stop-color="#83ca9a"/><stop offset="0.301" stop-color="#8ece96"/><stop offset="0.359" stop-color="#cfeac5"/><stop offset="0.408" stop-color="#daeaba"/><stop offset="0.456" stop-color="#eff2be"/><stop offset="0.515" stop-color="#ebf097"/><stop offset="0.592" stop-color="#f6e386"/><stop offset="0.709" stop-color="#f0b627"/><stop offset="0.816" stop-color="#f07020"/><stop offset="0.913" stop-color="#d14925"/><stop offset="1.000" stop-color="#b94025"/></linearGradient><linearGradient id="g65"><stop offset="0.000" stop-color="#29a169"/><stop offset="0.136" stop-color="#33a568"/><stop offset="0.204" stop-color="#59b26e"/><stop offset="0.252" stop-color="#8fcfa7"/><stop offset="0.291" stop-color="#8cce98"/><stop offset="0.369" stop-color="#dbefd2"/><stop offset="0.417" stop-color="#e6efc9"/><stop offset="0.466" stop-color="#f1f3bf"/><stop offset="0.515" stop-color="#ecf19e"/><stop offset="0.592" stop-color="#f6e28d"/><stop offset="0.709" stop-color="#f0b02e"/><stop offset="0.806" stop-color="#f0711e"/><stop offset="0.893" stop-color="#d54725"/><stop offset="1.000" stop-color="#b63d25"/></linearGradient><linearGradient id="g66"><stop offset="0.000" stop-color="#27a16e"/><stop offset="0.146" stop-color="#34a66d"/><stop offset="0.204" stop-color="#5db57b"/><stop offset="0.252" stop-color="#9cd5b8"/><stop offset="0.272" stop-color="#97d4ad"/><stop offset="0.291" stop-color="#93d1a0"/><stop offset="0.369" stop-color="#dff0d9"/><stop offset="0.456" stop-color="#f2f3cb"/><stop offset="0.524" stop-color="#eef1a5"/><stop offset="0.592" stop-color="#f6e093"/><stop offset="0.699" stop-color="#f1b339"/><stop offset="0.796" stop-color="#f0731d"/><stop offset="0.874" stop-color="#d94525"/><stop offset="1.000" stop-color="#b33926"/></linearGradient><linearGradient id="g67"><stop offset="0.000" stop-color="#25a074"/><stop offset="0.136" stop-color="#2ea575"/><stop offset="0.194" stop-color="#54b280"/><stop offset="0.252" stop-color="#a2d9c2"/><stop offset="0.291" stop-color="#9fd6ad"/><stop offset="0.369" stop-color="#e1f1dd"/><stop offset="0.456" stop-color="#f3f4d0"/><stop offset="0.524" stop-color="#f0f1ae"/><stop offset="0.583" stop-color="#f6e3a1"/><stop offset="0.699" stop-color="#f2b13f"/><stop offset="0.786" stop-color="#f0771d"/><stop offset="0.864" stop-color="#da4224"/><stop offset="1.000" stop-color="#b13626"/></linearGradient><linearGradient id="g68"><stop offset="0.000" stop-color="#249f79"/><stop offset="0.136" stop-color="#2ca57d"/><stop offset="0.194" stop-color="#53b38b"/><stop offset="0.252" stop-color="#a5dbca"/><stop offset="0.311" stop-color="#b8e0c1"/><stop offset="0.379" stop-color="#e5f1df"/><stop offset="0.466" stop-color="#f3f3d0"/><stop offset="0.534" stop-color="#f2f0b6"/><stop offset="0.583" stop-color="#f7e2a8"/><stop offset="0.680" stop-color="#f4bb4f"/><stop offset="0.786" stop-color="#ef711d"/><stop offset="0.854" stop-color="#dc3e23"/><stop offset="1.000" stop-color="#ae3426"/></linearGradient><linearGradient id="g69"><stop offset="0.000" stop-color="#229f7f"/><stop offset="0.136" stop-color="#29a585"/><stop offset="0.184" stop-color="#46af8e"/><stop offset="0.252" stop-color="#a6dcd2"/><stop offset="0.330" stop-color="#cee9d3"/><stop offset="0.388" stop-color="#e9f2e1"/><stop offset="0.466" stop-color="#f4f3d6"/><stop offset="0.553" stop-color="#f5ecbd"/><stop offset="0.592" stop-color="#f8dba5"/><stop offset="0.660" stop-color="#f6bf60"/><stop offset="0.748" stop-color="#f28e2c"/><stop offset="0.806" stop-color="#ea571d"/><stop offset="0.864" stop-color="#d53424"/><stop offset="1.000" stop-color="#ac3126"/></linearGradient><linearGradient id="g70"><stop offset="0.000" stop-color="#219f85"/><stop offset="0.146" stop-color="#2aa78d"/><stop offset="0.194" stop-color="#4eb59e"/><stop offset="0.262" stop-color="#b1e1de"/><stop offset="0.340" stop-color="#dbeede"/><stop offset="0.447" stop-color="#f4f3e1"/><stop offset="0.573" stop-color="#f7e4bd"/><stop offset="0.650" stop-color="#f7be69"/><stop offset="0.728" stop-color="#f39c3a"/><stop offset="0.796" stop-color="#eb581d"/><stop offset="0.854" stop-color="#d62f23"/><stop offset="1.000" stop-color="#a92e27"/></linearGradient><linearGradient id="g71"><stop offset="0.000" stop-color="#219e8b"/><stop offset="0.146" stop-color="#28a796"/><stop offset="0.194" stop-color="#4bb5a7"/><stop offset="0.262" stop-color="#b2e3e5"/><stop offset="0.301" stop-color="#cfebe4"/><stop offset="0.398" stop-color="#f1f6e9"/><stop offset="0.485" stop-color="#f5f0d8"/><stop offset="0.573" stop-color="#f8e2c1"/><stop offset="0.641" stop-color="#f7bd72"/><stop offset="0.718" stop-color="#f4a242"/><stop offset="0.786" stop-color="#ec591e"/><stop offset="0.845" stop-color="#d82b22"/><stop offset="1.000" stop-color="#a72b27"/></linearGradient><linearGradient id="g72"><stop offset="0.000" stop-color="#219e91"/><stop offset="0.146" stop-color="#27a89f"/><stop offset="0.194" stop-color="#48b6b0"/><stop offset="0.272" stop-color="#bce7ee"/><stop offset="0.359" stop-color="#eef7ed"/><stop offset="0.476" stop-color="#f6efe1"/><stop offset="0.573" stop-color="#f8dec1"/><stop offset="0.641" stop-color="#f7ba73"/><stop offset="0.709" stop-color="#f5a54a"/><stop offset="0.786" stop-color="#eb4e1f"/><stop offset="0.845" stop-color="#d62322"/><stop offset="1.000" stop-color="#a52927"/></linearGradient><linearGradient id="g73"><stop offset="0.000" stop-color="#209e97"/><stop offset="0.155" stop-color="#29aba9"/><stop offset="0.204" stop-color="#51bdc0"/><stop offset="0.272" stop-color="#b8e7f1"/><stop offset="0.340" stop-color="#eaf6ef"/><stop offset="0.437" stop-color="#f9f6f0"/><stop offset="0.563" stop-color="#f8ddc3"/><stop offset="0.641" stop-color="#f7b775"/><stop offset="0.699" stop-color="#f5a651"/><stop offset="0.767" stop-color="#ef5a26"/><stop offset="0.825" stop-color="#dd241f"/><stop offset="0.883" stop-color="#c31e26"/><stop offset="1.000" stop-color="#a32627"/></linearGradient><linearGradient id="g74"><stop offset="0.000" stop-color="#219e9d"/><stop offset="0.155" stop-color="#28acb1"/><stop offset="0.204" stop-color="#4cbdc7"/><stop offset="0.272" stop-color="#b2e5f3"/><stop offset="0.330" stop-color="#e8f6f2"/><stop offset="0.417" stop-color="#fdfbf5"/><stop offset="0.505" stop-color="#f7e9dc"/><stop offset="0.583" stop-color="#f8ccaf"/><stop offset="0.650" stop-color="#f6b26f"/><stop offset="0.699" stop-color="#f5a051"/><stop offset="0.786" stop-color="#ea3720"/><stop offset="0.845" stop-color="#d31822"/><stop offset="0.990" stop-color="#a22427"/><stop offset="1.000" stop-color="#a12427"/></linearGradient><linearGradient id="g75"><stop offset="0.000" stop-color="#219da3"/><stop offset="0.165" stop-color="#2bafbc"/><stop offset="0.214" stop-color="#52c3d4"/><stop offset="0.282" stop-color="#b8e7f5"/><stop offset="0.340" stop-color="#f0f9f7"/><stop offset="0.427" stop-color="#fdfbf7"/><stop offset="0.505" stop-color="#f8e6de"/><stop offset="0.592" stop-color="#f8be9f"/><stop offset="0.660" stop-color="#f5ac69"/><stop offset="0.709" stop-color="#f48f4a"/><stop offset="0.796" stop-color="#e6231f"/><stop offset="0.864" stop-color="#c91424"/><stop offset="0.971" stop-color="#a42328"/><stop offset="1.000" stop-color="#9f2127"/></linearGradient><linearGradient id="g76"><stop offset="0.000" stop-color="#219da8"/><stop offset="0.165" stop-color="#2ab0c3"/><stop offset="0.223" stop-color="#56c7df"/><stop offset="0.301" stop-color="#cdeef7"/><stop offset="0.350" stop-color="#f8fcfb"/><stop offset="0.447" stop-color="#fcf7f8"/><stop offset="0.515" stop-color="#f9e1d8"/><stop offset="0.631" stop-color="#f5a777"/><stop offset="0.689" stop-color="#f49656"/><stop offset="0.786" stop-color="#e82220"/><stop offset="0.845" stop-color="#d10f22"/><stop offset="0.971" stop-color="#a32028"/><stop offset="1.000" stop-color="#9e1f28"/></linearGradient><linearGradient id="g77"><stop offset="0.000" stop-color="#229cad"/><stop offset="0.175" stop-color="#2cb2cd"/><stop offset="0.223" stop-color="#4ec5e2"/><stop offset="0.320" stop-color="#e4f5fa"/><stop offset="0.369" stop-color="#fffffe"/><stop offset="0.466" stop-color="#faf1f7"/><stop offset="0.553" stop-color="#f9c5b4"/><stop offset="0.631" stop-color="#f49d72"/><stop offset="0.689" stop-color="#f38b52"/><stop offset="0.786" stop-color="#e81e21"/><stop offset="0.845" stop-color="#d00d22"/><stop offset="0.971" stop-color="#a11e28"/><stop offset="1.000" stop-color="#9c1c28"/></linearGradient><linearGradient id="g78"><stop offset="0.000" stop-color="#229bb1"/><stop offset="0.184" stop-color="#2eb4d5"/><stop offset="0.233" stop-color="#50c7e8"/><stop offset="0.330" stop-color="#eff9fc"/><stop offset="0.369" stop-color="#ffffff"/><stop offset="0.466" stop-color="#faf4f9"/><stop offset="0.534" stop-color="#f9cac0"/><stop offset="0.621" stop-color="#f49471"/><stop offset="0.689" stop-color="#f27e4d"/><stop offset="0.786" stop-color="#e71b22"/><stop offset="0.845" stop-color="#d00b22"/><stop offset="0.971" stop-color="#a01b28"/><stop offset="1.000" stop-color="#9b1a28"/></linearGradient><linearGradient id="g79"><stop offset="0.000" stop-color="#239ab5"/><stop offset="0.204" stop-color="#31b9e0"/><stop offset="0.243" stop-color="#53c7eb"/><stop offset="0.330" stop-color="#f0f8fc"/><stop offset="0.359" stop-color="#ffffff"/><stop offset="0.447" stop-color="#fcfbfa"/><stop offset="0.485" stop-color="#faeaee"/><stop offset="0.602" stop-color="#f38e75"/><stop offset="0.699" stop-color="#f06842"/><stop offset="0.806" stop-color="#e01021"/><stop offset="0.893" stop-color="#b81227"/><stop offset="1.000" stop-color="#9a1728"/></linearGradient><linearGradient id="g80"><stop offset="0.000" stop-color="#2499b9"/><stop offset="0.214" stop-color="#30b9e5"/><stop offset="0.243" stop-color="#4ac2eb"/><stop offset="0.330" stop-color="#f0f7fc"/><stop offset="0.359" stop-color="#ffffff"/><stop offset="0.437" stop-color="#fcf8f5"/><stop offset="0.476" stop-color="#faf0f4"/><stop offset="0.592" stop-color="#f28472"/><stop offset="0.699" stop-color="#ef5a3d"/><stop offset="0.806" stop-color="#e01023"/><stop offset="0.893" stop-color="#b81027"/><stop offset="1.000" stop-color="#991529"/></linearGradient><linearGradient id="g81"><stop offset="0.000" stop-color="#2497bc"/><stop offset="0.223" stop-color="#30b8e8"/><stop offset="0.262" stop-color="#62c2ee"/><stop offset="0.330" stop-color="#eef3fa"/><stop offset="0.359" stop-color="#fffffe"/><stop offset="0.437" stop-color="#fbf1f1"/><stop offset="0.466" stop-color="#faf4f6"/><stop offset="0.583" stop-color="#f17a6e"/><stop offset="0.718" stop-color="#ed4131"/><stop offset="0.816" stop-color="#db0d24"/><stop offset="0.981" stop-color="#9d1329"/><stop offset="1.000" stop-color="#991229"/></linearGradient><linearGradient id="g82"><stop offset="0.000" stop-color="#2495be"/><stop offset="0.223" stop-color="#30b4e8"/><stop offset="0.262" stop-color="#5abbeb"/><stop offset="0.311" stop-color="#c0d7f2"/><stop offset="0.340" stop-color="#faf7fa"/><stop offset="0.379" stop-color="#fffafa"/><stop offset="0.437" stop-color="#f9e4ea"/><stop offset="0.466" stop-color="#f9e8ed"/><stop offset="0.573" stop-color="#f0706a"/><stop offset="0.650" stop-color="#ed5545"/><stop offset="0.767" stop-color="#ea2427"/><stop offset="0.854" stop-color="#ca0926"/><stop offset="1.000" stop-color="#981029"/></linearGradient><linearGradient id="g83"><stop offset="0.000" stop-color="#2493c0"/><stop offset="0.233" stop-color="#34b0e8"/><stop offset="0.272" stop-color="#61b4e9"/><stop offset="0.311" stop-color="#b6cbed"/><stop offset="0.340" stop-color="#faf3f8"/><stop offset="0.369" stop-color="#fffcfa"/><stop offset="0.437" stop-color="#f7cfdd"/><stop offset="0.466" stop-color="#f7cfd8"/><stop offset="0.573" stop-color="#ee5f5e"/><stop offset="0.699" stop-color="#ea322e"/><stop offset="0.806" stop-color="#de1226"/><stop offset="0.913" stop-color="#b00d29"/><stop offset="1.000" stop-color="#980e2a"/></linearGradient><linearGradient id="g84"><stop offset="0.000" stop-color="#2491c2"/><stop offset="0.233" stop-color="#34abe7"/><stop offset="0.272" stop-color="#58abe6"/><stop offset="0.311" stop-color="#aabce8"/><stop offset="0.340" stop-color="#f9eef4"/><stop offset="0.359" stop-color="#fffcf8"/><stop offset="0.408" stop-color="#f7d8e7"/><stop offset="0.447" stop-color="#f4adc2"/><stop offset="0.495" stop-color="#f496a7"/><stop offset="0.583" stop-color="#eb494b"/><stop offset="0.699" stop-color="#e9272b"/><stop offset="0.806" stop-color="#dd1127"/><stop offset="0.922" stop-color="#ad0b2a"/><stop offset="1.000" stop-color="#970b2b"/></linearGradient><linearGradient id="g85"><stop offset="0.000" stop-color="#248ec3"/><stop offset="0.223" stop-color="#31a6e5"/><stop offset="0.272" stop-color="#4fa1e2"/><stop offset="0.311" stop-color="#9babe2"/><stop offset="0.330" stop-color="#d7cbe9"/><stop offset="0.340" stop-color="#f8e6f0"/><stop offset="0.359" stop-color="#fff6f4"/><stop offset="0.398" stop-color="#f8dce9"/><stop offset="0.437" stop-color="#f297b6"/><stop offset="0.456" stop-color="#f2829b"/><stop offset="0.505" stop-color="#f1768f"/><stop offset="0.583" stop-color="#e93b42"/><stop offset="0.689" stop-color="#e8232d"/><stop offset="0.806" stop-color="#dc1028"/><stop offset="0.981" stop-color="#9c0a2b"/><stop offset="1.000" stop-color="#97092b"/></linearGradient><linearGradient id="g86"><stop offset="0.000" stop-color="#248bc3"/><stop offset="0.223" stop-color="#31a2e2"/><stop offset="0.272" stop-color="#4799de"/><stop offset="0.301" stop-color="#7596db"/><stop offset="0.320" stop-color="#a6a3dc"/><stop offset="0.330" stop-color="#c5b4e0"/><stop offset="0.340" stop-color="#efd7e9"/><stop offset="0.350" stop-color="#ffe6ed"/><stop offset="0.388" stop-color="#fadee8"/><stop offset="0.408" stop-color="#f5c7da"/><stop offset="0.437" stop-color="#f07fa5"/><stop offset="0.456" stop-color="#f06080"/><stop offset="0.505" stop-color="#ef6081"/><stop offset="0.553" stop-color="#ea3c59"/><stop offset="0.583" stop-color="#e82f3d"/><stop offset="0.680" stop-color="#e82030"/><stop offset="0.806" stop-color="#db0f29"/><stop offset="1.000" stop-color="#97072c"/></linearGradient><linearGradient id="g87"><stop offset="0.000" stop-color="#2388c3"/><stop offset="0.175" stop-color="#2997d9"/><stop offset="0.252" stop-color="#389add"/><stop offset="0.282" stop-color="#498ed9"/><stop offset="0.311" stop-color="#7e8cd6"/><stop offset="0.330" stop-color="#b6a3d9"/><stop offset="0.350" stop-color="#edcbe3"/><stop offset="0.388" stop-color="#f6d1e0"/><stop offset="0.408" stop-color="#f4c0d4"/><stop offset="0.447" stop-color="#ee5b83"/><stop offset="0.466" stop-color="#ee4c72"/><stop offset="0.515" stop-color="#ec4c74"/><stop offset="0.583" stop-color="#e7283e"/><stop offset="0.680" stop-color="#e71a31"/><stop offset="0.816" stop-color="#d60b2a"/><stop offset="1.000" stop-color="#97052c"/></linearGradient><linearGradient id="g88"><stop offset="0.000" stop-color="#2285c3"/><stop offset="0.165" stop-color="#2790d4"/><stop offset="0.252" stop-color="#3897da"/><stop offset="0.282" stop-color="#4187d5"/><stop offset="0.311" stop-color="#7382d1"/><stop offset="0.350" stop-color="#d7aed8"/><stop offset="0.379" stop-color="#eebcd8"/><stop offset="0.408" stop-color="#f1b5cb"/><stop offset="0.447" stop-color="#ec527f"/><stop offset="0.466" stop-color="#eb406d"/><stop offset="0.524" stop-color="#ea3c6b"/><stop offset="0.592" stop-color="#e7233f"/><stop offset="0.786" stop-color="#dd0d2b"/><stop offset="1.000" stop-color="#97022d"/></linearGradient><linearGradient id="g89"><stop offset="0.000" stop-color="#2282c2"/><stop offset="0.155" stop-color="#2589cf"/><stop offset="0.252" stop-color="#3b95d7"/><stop offset="0.282" stop-color="#3d82d1"/><stop offset="0.320" stop-color="#807ccc"/><stop offset="0.359" stop-color="#d399cd"/><stop offset="0.398" stop-color="#eba4c5"/><stop offset="0.417" stop-color="#ed8cb1"/><stop offset="0.447" stop-color="#ea4b7e"/><stop offset="0.476" stop-color="#e9386b"/><stop offset="0.524" stop-color="#e93969"/><stop offset="0.602" stop-color="#e82244"/><stop offset="0.777" stop-color="#de0b2d"/><stop offset="1.000" stop-color="#96002e"/></linearGradient><linearGradient id="g90"><stop offset="0.000" stop-color="#217fc2"/><stop offset="0.155" stop-color="#2484cb"/><stop offset="0.252" stop-color="#4194d4"/><stop offset="0.291" stop-color="#497acc"/><stop offset="0.330" stop-color="#8d75c6"/><stop offset="0.359" stop-color="#c67ec1"/><stop offset="0.408" stop-color="#e882b0"/><stop offset="0.456" stop-color="#e73874"/><stop offset="0.505" stop-color="#e93b6d"/><stop offset="0.612" stop-color="#e8214a"/><stop offset="0.767" stop-color="#de092e"/><stop offset="1.000" stop-color="#96002f"/></linearGradient><linearGradient id="g91"><stop offset="0.000" stop-color="#207cc1"/><stop offset="0.165" stop-color="#2581c9"/><stop offset="0.252" stop-color="#4691d0"/><stop offset="0.291" stop-color="#4c78c9"/><stop offset="0.330" stop-color="#876cc0"/><stop offset="0.359" stop-color="#be68b7"/><stop offset="0.408" stop-color="#e369a4"/><stop offset="0.456" stop-color="#e43276"/><stop offset="0.495" stop-color="#e6376f"/><stop offset="0.534" stop-color="#e93a69"/><stop offset="0.612" stop-color="#e82250"/><stop offset="0.767" stop-color="#dc0731"/><stop offset="1.000" stop-color="#960030"/></linearGradient><linearGradient id="g92"><stop offset="0.000" stop-color="#1f79c0"/><stop offset="0.165" stop-color="#247cc5"/><stop offset="0.262" stop-color="#4889cb"/><stop offset="0.301" stop-color="#5971c3"/><stop offset="0.350" stop-color="#b369b5"/><stop offset="0.369" stop-color="#c353a9"/><stop offset="0.408" stop-color="#e0549a"/><stop offset="0.466" stop-color="#e12976"/><stop offset="0.524" stop-color="#ea4270"/><stop offset="0.689" stop-color="#e30d40"/><stop offset="0.854" stop-color="#c30031"/><stop offset="1.000" stop-color="#960031"/></linearGradient><linearGradient id="g93"><stop offset="0.000" stop-color="#1e76bf"/><stop offset="0.175" stop-color="#2578c1"/><stop offset="0.262" stop-color="#4682c7"/><stop offset="0.301" stop-color="#5c70c0"/><stop offset="0.340" stop-color="#a670b7"/><stop offset="0.359" stop-color="#c662ac"/><stop offset="0.379" stop-color="#ce4ba0"/><stop offset="0.437" stop-color="#e22e81"/><stop offset="0.476" stop-color="#dd2679"/><stop offset="0.524" stop-color="#e94774"/><stop offset="0.689" stop-color="#e20c44"/><stop offset="0.864" stop-color="#be0033"/><stop offset="1.000" stop-color="#950032"/></linearGradient><linearGradient id="g94"><stop offset="0.000" stop-color="#1d73bd"/><stop offset="0.184" stop-color="#2574be"/><stop offset="0.262" stop-color="#427bc3"/><stop offset="0.301" stop-color="#5d6ebc"/><stop offset="0.350" stop-color="#bd70b0"/><stop offset="0.388" stop-color="#d44298"/><stop offset="0.447" stop-color="#df217d"/><stop offset="0.485" stop-color="#db297e"/><stop offset="0.524" stop-color="#e84778"/><stop offset="0.718" stop-color="#de0640"/><stop offset="0.942" stop-color="#a40033"/><stop offset="1.000" stop-color="#950033"/></linearGradient><linearGradient id="g95"><stop offset="0.000" stop-color="#1c70bc"/><stop offset="0.194" stop-color="#266fbb"/><stop offset="0.282" stop-color="#4a6ebc"/><stop offset="0.320" stop-color="#7b6ab5"/><stop offset="0.359" stop-color="#c260a7"/><stop offset="0.408" stop-color="#dc2f8b"/><stop offset="0.466" stop-color="#d91a80"/><stop offset="0.524" stop-color="#e6437b"/><stop offset="0.738" stop-color="#da0340"/><stop offset="1.000" stop-color="#950034"/></linearGradient><linearGradient id="g96"><stop offset="0.000" stop-color="#1c6dbb"/><stop offset="0.214" stop-color="#286bb8"/><stop offset="0.282" stop-color="#4767b8"/><stop offset="0.330" stop-color="#8764af"/><stop offset="0.369" stop-color="#c24e9e"/><stop offset="0.427" stop-color="#de1d82"/><stop offset="0.476" stop-color="#d71c83"/><stop offset="0.524" stop-color="#e33e7e"/><stop offset="0.757" stop-color="#d50040"/><stop offset="1.000" stop-color="#940035"/></linearGradient><linearGradient id="g97"><stop offset="0.000" stop-color="#1b6bba"/><stop offset="0.223" stop-color="#2765b5"/><stop offset="0.282" stop-color="#4561b4"/><stop offset="0.340" stop-color="#8d59a8"/><stop offset="0.388" stop-color="#cc3493"/><stop offset="0.447" stop-color="#da1582"/><stop offset="0.495" stop-color="#da2985"/><stop offset="0.544" stop-color="#e43a7b"/><stop offset="0.748" stop-color="#d50044"/><stop offset="1.000" stop-color="#940036"/></linearGradient><linearGradient id="g98"><stop offset="0.000" stop-color="#1a68b8"/><stop offset="0.233" stop-color="#275eb2"/><stop offset="0.291" stop-color="#4d59af"/><stop offset="0.350" stop-color="#914ba2"/><stop offset="0.388" stop-color="#c63093"/><stop offset="0.447" stop-color="#d81484"/><stop offset="0.544" stop-color="#e1367e"/><stop offset="0.757" stop-color="#d20046"/><stop offset="1.000" stop-color="#930037"/></linearGradient><linearGradient id="g99"><stop offset="0.000" stop-color="#1966b7"/><stop offset="0.233" stop-color="#2658ae"/><stop offset="0.311" stop-color="#5c4fa8"/><stop offset="0.350" stop-color="#86429f"/><stop offset="0.388" stop-color="#c22b94"/><stop offset="0.447" stop-color="#d61386"/><stop offset="0.553" stop-color="#e0317e"/><stop offset="0.757" stop-color="#d00049"/><stop offset="1.000" stop-color="#930039"/></linearGradient><linearGradient id="g100"><stop offset="0.000" stop-color="#1863b6"/><stop offset="0.233" stop-color="#2652aa"/><stop offset="0.340" stop-color="#703ea0"/><stop offset="0.388" stop-color="#bd2895"/><stop offset="0.447" stop-color="#d41389"/><stop offset="0.553" stop-color="#dd2d80"/><stop offset="0.757" stop-color="#ce004c"/><stop offset="1.000" stop-color="#92003a"/></linearGradient><linearGradient id="g101"><stop offset="0.000" stop-color="#1661b5"/><stop offset="0.233" stop-color="#274ea7"/><stop offset="0.340" stop-color="#71399e"/><stop offset="0.388" stop-color="#b92596"/><stop offset="0.447" stop-color="#d0138b"/><stop offset="0.563" stop-color="#db2980"/><stop offset="0.757" stop-color="#cc004e"/><stop offset="1.000" stop-color="#91003b"/></linearGradient><linearGradient id="g102"><stop offset="0.000" stop-color="#155fb4"/><stop offset="0.223" stop-color="#244ba4"/><stop offset="0.320" stop-color="#663ca0"/><stop offset="0.359" stop-color="#8c2e9c"/><stop offset="0.398" stop-color="#bb1e95"/><stop offset="0.476" stop-color="#d0178c"/><stop offset="0.573" stop-color="#d9257f"/><stop offset="0.757" stop-color="#ca0051"/><stop offset="1.000" stop-color="#91003c"/></linearGradient><linearGradient id="g103"><stop offset="0.000" stop-color="#145db3"/><stop offset="0.223" stop-color="#2448a2"/><stop offset="0.311" stop-color="#653ca0"/><stop offset="0.350" stop-color="#7e2f9d"/><stop offset="0.408" stop-color="#bb1a94"/><stop offset="0.485" stop-color="#ce188d"/><stop offset="0.583" stop-color="#d7217f"/><stop offset="0.757" stop-color="#c80054"/><stop offset="1.000" stop-color="#90003e"/></linearGradient><linearGradient id="g104"><stop offset="0.000" stop-color="#125ab2"/><stop offset="0.223" stop-color="#2445a0"/><stop offset="0.311" stop-color="#663a9f"/><stop offset="0.359" stop-color="#882a9d"/><stop offset="0.417" stop-color="#ba1794"/><stop offset="0.602" stop-color="#d41b7c"/><stop offset="0.757" stop-color="#c60056"/><stop offset="1.000" stop-color="#8f003f"/></linearGradient><linearGradient id="g105"><stop offset="0.000" stop-color="#1158b0"/><stop offset="0.223" stop-color="#22439e"/><stop offset="0.320" stop-color="#68369f"/><stop offset="0.427" stop-color="#b91595"/><stop offset="0.602" stop-color="#d1197e"/><stop offset="0.757" stop-color="#c40058"/><stop offset="1.000" stop-color="#8e0040"/></linearGradient><linearGradient id="g106"><stop offset="0.000" stop-color="#0f56af"/><stop offset="0.223" stop-color="#21419c"/><stop offset="0.359" stop-color="#80289e"/><stop offset="0.437" stop-color="#b71495"/><stop offset="0.612" stop-color="#ce157d"/><stop offset="0.757" stop-color="#c1005b"/><stop offset="1.000" stop-color="#8d0042"/></linearGradient><linearGradient id="g107"><stop offset="0.000" stop-color="#0e54af"/><stop offset="0.223" stop-color="#1e3f9a"/><stop offset="0.359" stop-color="#7c289e"/><stop offset="0.447" stop-color="#b51496"/><stop offset="0.621" stop-color="#cb117c"/><stop offset="0.767" stop-color="#be005b"/><stop offset="1.000" stop-color="#8c0043"/></linearGradient><linearGradient id="g108"><stop offset="0.000" stop-color="#0c53ae"/><stop offset="0.223" stop-color="#1b3d99"/><stop offset="0.359" stop-color="#77289f"/><stop offset="0.447" stop-color="#af1497"/><stop offset="0.612" stop-color="#c81180"/><stop offset="0.757" stop-color="#bd005f"/><stop offset="1.000" stop-color="#8b0045"/></linearGradient><linearGradient id="g109"><stop offset="0.000" stop-color="#0a51ad"/><stop offset="0.223" stop-color="#193c98"/><stop offset="0.369" stop-color="#7a249f"/><stop offset="0.466" stop-color="#b01396"/><stop offset="0.641" stop-color="#c40a7b"/><stop offset="0.825" stop-color="#af0056"/><stop offset="1.000" stop-color="#8a0046"/></linearGradient><linearGradient id="g110"><stop offset="0.000" stop-color="#084fac"/><stop offset="0.223" stop-color="#173b97"/><stop offset="0.369" stop-color="#75249f"/><stop offset="0.466" stop-color="#ab1397"/><stop offset="0.641" stop-color="#c1097c"/><stop offset="0.903" stop-color="#9d004f"/><stop offset="1.000" stop-color="#890047"/></linearGradient><linearGradient id="g111"><stop offset="0.000" stop-color="#064dab"/><stop offset="0.223" stop-color="#163a97"/><stop offset="0.379" stop-color="#77219f"/><stop offset="0.485" stop-color="#ac1296"/><stop offset="0.660" stop-color="#bd047a"/><stop offset="0.961" stop-color="#8f004c"/><stop offset="1.000" stop-color="#880049"/></linearGradient><linearGradient id="g112"><stop offset="0.000" stop-color="#044bab"/><stop offset="0.223" stop-color="#153a97"/><stop offset="0.398" stop-color="#801c9e"/><stop offset="0.515" stop-color="#ae1094"/><stop offset="0.709" stop-color="#b70071"/><stop offset="1.000" stop-color="#86004a"/></linearGradient><linearGradient id="g113"><stop offset="0.000" stop-color="#024aaa"/><stop offset="0.223" stop-color="#133997"/><stop offset="0.456" stop-color="#98129a"/><stop offset="0.612" stop-color="#b60886"/><stop offset="0.854" stop-color="#a1005a"/><stop offset="1.000" stop-color="#85004c"/></linearGradient><linearGradient id="g114"><stop offset="0.000" stop-color="#0048a9"/><stop offset="0.223" stop-color="#123897"/><stop offset="0.466" stop-color="#97119a"/><stop offset="0.631" stop-color="#b30483"/><stop offset="0.893" stop-color="#980057"/><stop offset="1.000" stop-color="#84004d"/></linearGradient></defs>
<rect x="452" y="19" width="205" height="2.5" fill="url(#g1)"/><rect x="452" y="21" width="205" height="2.5" fill="url(#g2)"/><rect x="452" y="23" width="205" height="2.5" fill="url(#g3)"/><rect x="452" y="25" width="205" height="2.5" fill="url(#g4)"/><rect x="452" y="27" width="205" height="2.5" fill="url(#g5)"/><rect x="452" y="29" width="205" height="2.5" fill="url(#g6)"/><rect x="452" y="31" width="205" height="2.5" fill="url(#g7)"/><rect x="452" y="33" width="205" height="2.5" fill="url(#g8)"/><rect x="452" y="35" width="205" height="2.5" fill="url(#g9)"/><rect x="452" y="37" width="205" height="2.5" fill="url(#g10)"/><rect x="452" y="39" width="205" height="2.5" fill="url(#g11)"/><rect x="452" y="41" width="205" height="2.5" fill="url(#g12)"/><rect x="452" y="43" width="205" height="2.5" fill="url(#g13)"/><rect x="452" y="45" width="205" height="2.5" fill="url(#g14)"/><rect x="452" y="47" width="205" height="2.5" fill="url(#g15)"/><rect x="452" y="49" width="205" height="2.5" fill="url(#g16)"/><rect x="452" y="51" width="205" height="2.5" fill="url(#g17)"/><rect x="452" y="53" width="205" height="2.5" fill="url(#g18)"/><rect x="452" y="55" width="205" height="2.5" fill="url(#g19)"/><rect x="452" y="57" width="205" height="2.5" fill="url(#g20)"/><rect x="452" y="59" width="205" height="2.5" fill="url(#g21)"/><rect x="452" y="61" width="205" height="2.5" fill="url(#g22)"/><rect x="452" y="63" width="205" height="2.5" fill="url(#g23)"/><rect x="452" y="65" width="205" height="2.5" fill="url(#g24)"/><rect x="452" y="67" width="205" height="2.5" fill="url(#g25)"/><rect x="452" y="69" width="205" height="2.5" fill="url(#g26)"/><rect x="452" y="71" width="205" height="2.5" fill="url(#g27)"/><rect x="452" y="73" width="205" height="2.5" fill="url(#g28)"/><rect x="452" y="75" width="205" height="2.5" fill="url(#g29)"/><rect x="452" y="77" width="205" height="2.5" fill="url(#g30)"/><rect x="452" y="79" width="205" height="2.5" fill="url(#g31)"/><rect x="452" y="81" width="205" height="2.5" fill="url(#g32)"/><rect x="452" y="83" width="205" height="2.5" fill="url(#g33)"/><rect x="452" y="85" width="205" height="2.5" fill="url(#g34)"/><rect x="452" y="87" width="205" height="2.5" fill="url(#g35)"/><rect x="452" y="89" width="205" height="2.5" fill="url(#g36)"/><rect x="452" y="91" width="205" height="2.5" fill="url(#g37)"/><rect x="452" y="93" width="205" height="2.5" fill="url(#g38)"/><rect x="452" y="95" width="205" height="2.5" fill="url(#g39)"/><rect x="452" y="97" width="205" height="2.5" fill="url(#g40)"/><rect x="452" y="99" width="205" height="2.5" fill="url(#g41)"/><rect x="452" y="101" width="205" height="2.5" fill="url(#g42)"/><rect x="452" y="103" width="205" height="2.5" fill="url(#g43)"/><rect x="452" y="105" width="205" height="2.5" fill="url(#g44)"/><rect x="452" y="107" width="205" height="2.5" fill="url(#g45)"/><rect x="452" y="109" width="205" height="2.5" fill="url(#g46)"/><rect x="452" y="111" width="205" height="2.5" fill="url(#g47)"/><rect x="452" y="113" width="205" height="2.5" fill="url(#g48)"/><rect x="452" y="115" width="205" height="2.5" fill="url(#g49)"/><rect x="452" y="117" width="205" height="2.5" fill="url(#g50)"/><rect x="452" y="119" width="205" height="2.5" fill="url(#g51)"/><rect x="452" y="121" width="205" height="2.5" fill="url(#g52)"/><rect x="452" y="123" width="205" height="2.5" fill="url(#g53)"/><rect x="452" y="125" width="205" height="2.5" fill="url(#g54)"/><rect x="452" y="127" width="205" height="2.5" fill="url(#g55)"/><rect x="452" y="129" width="205" height="2.5" fill="url(#g56)"/><rect x="452" y="131" width="205" height="2.5" fill="url(#g57)"/><rect x="452" y="133" width="205" height="2.5" fill="url(#g58)"/><rect x="452" y="135" width="205" height="2.5" fill="url(#g59)"/><rect x="452" y="137" width="205" height="2.5" fill="url(#g60)"/><rect x="452" y="139" width="205" height="2.5" fill="url(#g61)"/><rect x="452" y="141" width="205" height="2.5" fill="url(#g62)"/><rect x="452" y="143" width="205" height="2.5" fill="url(#g63)"/><rect x="452" y="145" width="205" height="2.5" fill="url(#g64)"/><rect x="452" y="147" width="205" height="2.5" fill="url(#g65)"/><rect x="452" y="149" width="205" height="2.5" fill="url(#g66)"/><rect x="452" y="151" width="205" height="2.5" fill="url(#g67)"/><rect x="452" y="153" width="205" height="2.5" fill="url(#g68)"/><rect x="452" y="155" width="205" height="2.5" fill="url(#g69)"/><rect x="452" y="157" width="205" height="2.5" fill="url(#g70)"/><rect x="452" y="159" width="205" height="2.5" fill="url(#g71)"/><rect x="452" y="161" width="205" height="2.5" fill="url(#g72)"/><rect x="452" y="163" width="205" height="2.5" fill="url(#g73)"/><rect x="452" y="165" width="205" height="2.5" fill="url(#g74)"/><rect x="452" y="167" width="205" height="2.5" fill="url(#g75)"/><rect x="452" y="169" width="205" height="2.5" fill="url(#g76)"/><rect x="452" y="171" width="205" height="2.5" fill="url(#g77)"/><rect x="452" y="173" width="205" height="2.5" fill="url(#g78)"/><rect x="452" y="175" width="205" height="2.5" fill="url(#g79)"/><rect x="452" y="177" width="205" height="2.5" fill="url(#g80)"/><rect x="452" y="179" width="205" height="2.5" fill="url(#g81)"/><rect x="452" y="181" width="205" height="2.5" fill="url(#g82)"/><rect x="452" y="183" width="205" height="2.5" fill="url(#g83)"/><rect x="452" y="185" width="205" height="2.5" fill="url(#g84)"/><rect x="452" y="187" width="205" height="2.5" fill="url(#g85)"/><rect x="452" y="189" width="205" height="2.5" fill="url(#g86)"/><rect x="452" y="191" width="205" height="2.5" fill="url(#g87)"/><rect x="452" y="193" width="205" height="2.5" fill="url(#g88)"/><rect x="452" y="195" width="205" height="2.5" fill="url(#g89)"/><rect x="452" y="197" width="205" height="2.5" fill="url(#g90)"/><rect x="452" y="199" width="205" height="2.5" fill="url(#g91)"/><rect x="452" y="201" width="205" height="2.5" fill="url(#g92)"/><rect x="452" y="203" width="205" height="2.5" fill="url(#g93)"/><rect x="452" y="205" width="205" height="2.5" fill="url(#g94)"/><rect x="452" y="207" width="205" height="2.5" fill="url(#g95)"/><rect x="452" y="209" width="205" height="2.5" fill="url(#g96)"/><rect x="452" y="211" width="205" height="2.5" fill="url(#g97)"/><rect x="452" y="213" width="205" height="2.5" fill="url(#g98)"/><rect x="452" y="215" width="205" height="2.5" fill="url(#g99)"/><rect x="452" y="217" width="205" height="2.5" fill="url(#g100)"/><rect x="452" y="219" width="205" height="2.5" fill="url(#g101)"/><rect x="452" y="221" width="205" height="2.5" fill="url(#g102)"/><rect x="452" y="223" width="205" height="2.5" fill="url(#g103)"/><rect x="452" y="225" width="205" height="2.5" fill="url(#g104)"/><rect x="452" y="227" width="205" height="2.5" fill="url(#g105)"/><rect x="452" y="229" width="205" height="2.5" fill="url(#g106)"/><rect x="452" y="231" width="205" height="2.5" fill="url(#g107)"/><rect x="452" y="233" width="205" height="2.5" fill="url(#g108)"/><rect x="452" y="235" width="205" height="2.5" fill="url(#g109)"/><rect x="452" y="237" width="205" height="2.5" fill="url(#g110)"/><rect x="452" y="239" width="205" height="2.5" fill="url(#g111)"/><rect x="452" y="241" width="205" height="2.5" fill="url(#g112)"/><rect x="452" y="243" width="205" height="2.5" fill="url(#g113)"/><rect x="452" y="245" width="205" height="2.5" fill="url(#g114)"/>
</g>
<rect x="451.5" y="12.5" width="227.0" height="234.0" fill="none" stroke="#6e6e6e" stroke-width="1"/>
<line x1="447.6" y1="245.8" x2="451.5" y2="245.8" stroke="#6e6e6e" stroke-width="1" />
<text x="445.5" y="249.4" font-size="10" text-anchor="end" fill="#141414" >0.0</text>
<line x1="449.3" y1="232.9" x2="451.5" y2="232.9" stroke="#6e6e6e" stroke-width="1" />
<line x1="447.6" y1="219.9" x2="451.5" y2="219.9" stroke="#6e6e6e" stroke-width="1" />
<text x="445.5" y="223.5" font-size="10" text-anchor="end" fill="#141414" >0.1</text>
<line x1="449.3" y1="206.9" x2="451.5" y2="206.9" stroke="#6e6e6e" stroke-width="1" />
<line x1="447.6" y1="194" x2="451.5" y2="194" stroke="#6e6e6e" stroke-width="1" />
<text x="445.5" y="197.6" font-size="10" text-anchor="end" fill="#141414" >0.2</text>
<line x1="449.3" y1="181.1" x2="451.5" y2="181.1" stroke="#6e6e6e" stroke-width="1" />
<line x1="447.6" y1="168.1" x2="451.5" y2="168.1" stroke="#6e6e6e" stroke-width="1" />
<text x="445.5" y="171.7" font-size="10" text-anchor="end" fill="#141414" >0.3</text>
<line x1="449.3" y1="155.2" x2="451.5" y2="155.2" stroke="#6e6e6e" stroke-width="1" />
<line x1="447.6" y1="142.2" x2="451.5" y2="142.2" stroke="#6e6e6e" stroke-width="1" />
<text x="445.5" y="145.8" font-size="10" text-anchor="end" fill="#141414" >0.4</text>
<line x1="449.3" y1="129.2" x2="451.5" y2="129.2" stroke="#6e6e6e" stroke-width="1" />
<line x1="447.6" y1="116.3" x2="451.5" y2="116.3" stroke="#6e6e6e" stroke-width="1" />
<text x="445.5" y="119.9" font-size="10" text-anchor="end" fill="#141414" >0.5</text>
<line x1="449.3" y1="103.3" x2="451.5" y2="103.3" stroke="#6e6e6e" stroke-width="1" />
<line x1="447.6" y1="90.4" x2="451.5" y2="90.4" stroke="#6e6e6e" stroke-width="1" />
<text x="445.5" y="94" font-size="10" text-anchor="end" fill="#141414" >0.6</text>
<line x1="449.3" y1="77.5" x2="451.5" y2="77.5" stroke="#6e6e6e" stroke-width="1" />
<line x1="447.6" y1="64.5" x2="451.5" y2="64.5" stroke="#6e6e6e" stroke-width="1" />
<text x="445.5" y="68.1" font-size="10" text-anchor="end" fill="#141414" >0.7</text>
<line x1="449.3" y1="51.6" x2="451.5" y2="51.6" stroke="#6e6e6e" stroke-width="1" />
<line x1="447.6" y1="38.6" x2="451.5" y2="38.6" stroke="#6e6e6e" stroke-width="1" />
<text x="445.5" y="42.2" font-size="10" text-anchor="end" fill="#141414" >0.8</text>
<line x1="449.3" y1="25.6" x2="451.5" y2="25.6" stroke="#6e6e6e" stroke-width="1" />
<line x1="447.6" y1="12.7" x2="451.5" y2="12.7" stroke="#6e6e6e" stroke-width="1" />
<text x="445.5" y="16.3" font-size="10" text-anchor="end" fill="#141414" >0.9</text>
<line x1="451.4" y1="246.5" x2="451.4" y2="250.1" stroke="#6e6e6e" stroke-width="1" />
<text x="451.4" y="262" font-size="10" text-anchor="middle" fill="#141414" >0.0</text>
<line x1="465.5" y1="246.5" x2="465.5" y2="248.5" stroke="#6e6e6e" stroke-width="1" />
<line x1="479.7" y1="246.5" x2="479.7" y2="250.1" stroke="#6e6e6e" stroke-width="1" />
<text x="479.7" y="262" font-size="10" text-anchor="middle" fill="#141414" >0.1</text>
<line x1="493.8" y1="246.5" x2="493.8" y2="248.5" stroke="#6e6e6e" stroke-width="1" />
<line x1="508" y1="246.5" x2="508" y2="250.1" stroke="#6e6e6e" stroke-width="1" />
<text x="508" y="262" font-size="10" text-anchor="middle" fill="#141414" >0.2</text>
<line x1="522.1" y1="246.5" x2="522.1" y2="248.5" stroke="#6e6e6e" stroke-width="1" />
<line x1="536.3" y1="246.5" x2="536.3" y2="250.1" stroke="#6e6e6e" stroke-width="1" />
<text x="536.3" y="262" font-size="10" text-anchor="middle" fill="#141414" >0.3</text>
<line x1="550.4" y1="246.5" x2="550.4" y2="248.5" stroke="#6e6e6e" stroke-width="1" />
<line x1="564.6" y1="246.5" x2="564.6" y2="250.1" stroke="#6e6e6e" stroke-width="1" />
<text x="564.6" y="262" font-size="10" text-anchor="middle" fill="#141414" >0.4</text>
<line x1="578.7" y1="246.5" x2="578.7" y2="248.5" stroke="#6e6e6e" stroke-width="1" />
<line x1="592.8" y1="246.5" x2="592.8" y2="250.1" stroke="#6e6e6e" stroke-width="1" />
<text x="592.8" y="262" font-size="10" text-anchor="middle" fill="#141414" >0.5</text>
<line x1="607" y1="246.5" x2="607" y2="248.5" stroke="#6e6e6e" stroke-width="1" />
<line x1="621.1" y1="246.5" x2="621.1" y2="250.1" stroke="#6e6e6e" stroke-width="1" />
<text x="621.1" y="262" font-size="10" text-anchor="middle" fill="#141414" >0.6</text>
<line x1="635.3" y1="246.5" x2="635.3" y2="248.5" stroke="#6e6e6e" stroke-width="1" />
<line x1="649.4" y1="246.5" x2="649.4" y2="250.1" stroke="#6e6e6e" stroke-width="1" />
<text x="649.4" y="262" font-size="10" text-anchor="middle" fill="#141414" >0.7</text>
<line x1="663.6" y1="246.5" x2="663.6" y2="248.5" stroke="#6e6e6e" stroke-width="1" />
<line x1="677.7" y1="246.5" x2="677.7" y2="250.1" stroke="#6e6e6e" stroke-width="1" />
<text x="677.7" y="262" font-size="10" text-anchor="middle" fill="#141414" >0.8</text>
<text x="564.6" y="272.2" font-size="10" text-anchor="middle" fill="#141414" >x</text>
<text x="417.2" y="131" font-size="10" text-anchor="middle" fill="#141414" >y</text>
<rect x="511.7" y="16.1" width="30.8" height="28.2" rx="3.2" fill="#080808"/>
<defs><radialGradient id="pg358" cx="0.5" cy="0.45" r="0.6"><stop offset="0" stop-color="#4cc0b0"/><stop offset="0.8" stop-color="#2aa294"/><stop offset="1" stop-color="#2aa294"/></radialGradient></defs>
<ellipse cx="527.1" cy="30.5" rx="13" ry="11.9" fill="url(#pg358)"/>
<text x="525.1" y="54.7" font-size="10" text-anchor="middle" fill="#141414" >358 K</text>
<rect x="545.8" y="42.1" width="30.8" height="28.2" rx="3.2" fill="#080808"/>
<defs><radialGradient id="pg338" cx="0.5" cy="0.45" r="0.6"><stop offset="0" stop-color="#50beb0"/><stop offset="0.8" stop-color="#2ca294"/><stop offset="1" stop-color="#2ca294"/></radialGradient></defs>
<ellipse cx="561.2" cy="56.5" rx="13" ry="11.9" fill="url(#pg338)"/>
<text x="559.9" y="80.7" font-size="10" text-anchor="middle" fill="#141414" >338 K</text>
<rect x="580" y="67.2" width="30.8" height="28.2" rx="3.2" fill="#080808"/>
<defs><radialGradient id="pg318" cx="0.5" cy="0.45" r="0.6"><stop offset="0" stop-color="#78ccb6"/><stop offset="0.8" stop-color="#48b49c"/><stop offset="1" stop-color="#48b49c"/></radialGradient></defs>
<ellipse cx="595.4" cy="81.6" rx="13" ry="11.9" fill="url(#pg318)"/>
<text x="592.8" y="105.8" font-size="10" text-anchor="middle" fill="#141414" >318 K</text>
<rect x="612.7" y="92.1" width="30.8" height="28.2" rx="3.2" fill="#080808"/>
<defs><radialGradient id="pg308" cx="0.5" cy="0.45" r="0.6"><stop offset="0" stop-color="#a8d0ae"/><stop offset="0.8" stop-color="#7cb690"/><stop offset="1" stop-color="#7cb690"/></radialGradient></defs>
<ellipse cx="628.1" cy="106.5" rx="13" ry="11.9" fill="url(#pg308)"/>
<text x="628.1" y="130.7" font-size="10" text-anchor="middle" fill="#141414" >308 K</text>
<rect x="645.7" y="119.7" width="30.8" height="28.2" rx="3.2" fill="#080808"/>
<defs><radialGradient id="pg298" cx="0.5" cy="0.45" r="0.6"><stop offset="0" stop-color="#dcdc98"/><stop offset="0.8" stop-color="#bcc070"/><stop offset="1" stop-color="#bcc070"/></radialGradient></defs>
<ellipse cx="661.1" cy="134.1" rx="13" ry="11.9" fill="url(#pg298)"/>
<text x="659.8" y="158.3" font-size="10" text-anchor="middle" fill="#141414" >298 K</text>
<polyline points="498,153.8 507.4,150.7 527.2,146.2 553.2,141.1 583.6,132.9 595.1,129.2 598.1,126.6" fill="none" stroke="#d8285a" stroke-width="1"/>
<circle cx="498" cy="153.8" r="2.7" fill="#fff" stroke="#3a5ad8" stroke-width="0.9"/>
<circle cx="507.4" cy="150.7" r="2.7" fill="#fff" stroke="#3a5ad8" stroke-width="0.9"/>
<circle cx="527.2" cy="146.2" r="2.7" fill="#fff" stroke="#3a5ad8" stroke-width="0.9"/>
<circle cx="553.2" cy="141.1" r="2.7" fill="#fff" stroke="#3a5ad8" stroke-width="0.9"/>
<circle cx="583.6" cy="132.9" r="2.7" fill="#fff" stroke="#3a5ad8" stroke-width="0.9"/>
<circle cx="595.1" cy="129.2" r="2.7" fill="#fff" stroke="#3a5ad8" stroke-width="0.9"/>
<circle cx="598.1" cy="126.6" r="2.7" fill="#fff" stroke="#3a5ad8" stroke-width="0.9"/>
<text x="492" y="140.8" font-size="10" text-anchor="middle" fill="#141414" transform="rotate(37 492 137.3)">338 K</text>
<text x="508.8" y="170.9" font-size="10" text-anchor="middle" fill="#141414" transform="rotate(37 508.8 167.4)">358 K</text>
<text x="537.5" y="130.6" font-size="10" text-anchor="middle" fill="#141414" transform="rotate(37 537.5 127.1)">298 K</text>
<text x="540.5" y="162.8" font-size="10" text-anchor="middle" fill="#141414" transform="rotate(37 540.5 159.3)">318 K</text>
<text x="578.3" y="118.3" font-size="10" text-anchor="middle" fill="#141414" transform="rotate(37 578.3 114.8)">253 K</text>
<text x="594.6" y="149.5" font-size="10" text-anchor="middle" fill="#141414" transform="rotate(37 594.6 146)">273 K</text>
<text x="613.7" y="141.4" font-size="10" text-anchor="middle" fill="#141414" transform="rotate(37 613.7 137.9)">193 K</text>
<text x="0" y="302.6" font-size="12.5" text-anchor="start" fill="#141414" font-weight="bold" >c</text>
<rect x="42.5" y="309.5" width="136" height="200.0" fill="#eff3fc"/>
<path d="M42.5,510.5 V309.5 H209.5 V509.5 H42.0" fill="none" stroke="#6e6e6e" stroke-width="1"/>
<line x1="39.3" y1="489.5" x2="42.5" y2="489.5" stroke="#6e6e6e" stroke-width="1" />
<text x="38.9" y="493.7" font-size="10" text-anchor="end" fill="#141414" >0</text>
<line x1="40.3" y1="469.4" x2="42.5" y2="469.4" stroke="#6e6e6e" stroke-width="1" />
<line x1="39.3" y1="449.3" x2="42.5" y2="449.3" stroke="#6e6e6e" stroke-width="1" />
<text x="38.9" y="453.5" font-size="10" text-anchor="end" fill="#141414" >400</text>
<line x1="40.3" y1="429.2" x2="42.5" y2="429.2" stroke="#6e6e6e" stroke-width="1" />
<line x1="39.3" y1="409.1" x2="42.5" y2="409.1" stroke="#6e6e6e" stroke-width="1" />
<text x="38.9" y="413.3" font-size="10" text-anchor="end" fill="#141414" >800</text>
<line x1="40.3" y1="389" x2="42.5" y2="389" stroke="#6e6e6e" stroke-width="1" />
<line x1="39.3" y1="368.9" x2="42.5" y2="368.9" stroke="#6e6e6e" stroke-width="1" />
<text x="38.9" y="373.1" font-size="10" text-anchor="end" fill="#141414" >1200</text>
<line x1="40.3" y1="348.8" x2="42.5" y2="348.8" stroke="#6e6e6e" stroke-width="1" />
<line x1="39.3" y1="328.7" x2="42.5" y2="328.7" stroke="#6e6e6e" stroke-width="1" />
<text x="38.9" y="332.9" font-size="10" text-anchor="end" fill="#141414" >1600</text>
<line x1="53.3" y1="509.5" x2="53.3" y2="513.5" stroke="#6e6e6e" stroke-width="1" />
<text x="53.3" y="523.3" font-size="10" text-anchor="middle" fill="#141414" >193</text>
<line x1="70" y1="509.5" x2="70" y2="511.7" stroke="#6e6e6e" stroke-width="1" />
<line x1="86.7" y1="509.5" x2="86.7" y2="513.5" stroke="#6e6e6e" stroke-width="1" />
<text x="86.7" y="523.3" font-size="10" text-anchor="middle" fill="#141414" >233</text>
<line x1="103.4" y1="509.5" x2="103.4" y2="511.7" stroke="#6e6e6e" stroke-width="1" />
<line x1="120.1" y1="509.5" x2="120.1" y2="513.5" stroke="#6e6e6e" stroke-width="1" />
<text x="120.1" y="523.3" font-size="10" text-anchor="middle" fill="#141414" >273</text>
<line x1="136.8" y1="509.5" x2="136.8" y2="511.7" stroke="#6e6e6e" stroke-width="1" />
<line x1="153.5" y1="509.5" x2="153.5" y2="513.5" stroke="#6e6e6e" stroke-width="1" />
<text x="153.5" y="523.3" font-size="10" text-anchor="middle" fill="#141414" >313</text>
<line x1="170.2" y1="509.5" x2="170.2" y2="511.7" stroke="#6e6e6e" stroke-width="1" />
<line x1="186.8" y1="509.5" x2="186.8" y2="513.5" stroke="#6e6e6e" stroke-width="1" />
<text x="186.8" y="523.3" font-size="10" text-anchor="middle" fill="#141414" >353</text>
<line x1="203.5" y1="509.5" x2="203.5" y2="511.7" stroke="#6e6e6e" stroke-width="1" />
<text x="118" y="535.8" font-size="10" text-anchor="middle" fill="#141414" >Temperature (K)</text>
<text x="9.8" y="416.1" font-size="10" text-anchor="middle" fill="#141414" transform="rotate(-90 9.8 416.1)">Intensity (counts)</text>
<polyline points="57.5,373.5 74.2,382.1 99.2,387 115.9,400.8 132.6,423.7 149.3,437.7 161.8,451 170.2,460.9 178.5,467.6 186.8,472.8 195.2,477.2" fill="none" stroke="#e0603e" stroke-width="1.3"/>
<polyline points="57.5,485.6 74.2,484.8 99.2,477.2 115.9,457.5 132.6,419.5 149.3,384.4 161.8,349 170.2,330.5 178.5,323.2 186.8,328.5 195.2,342.3" fill="none" stroke="#1f78c4" stroke-width="1.3"/>
<circle cx="57.5" cy="373.5" r="2.9" fill="#fff" stroke="#e0603e" stroke-width="1.2"/>
<circle cx="74.2" cy="382.1" r="2.9" fill="#fff" stroke="#e0603e" stroke-width="1.2"/>
<circle cx="99.2" cy="387" r="2.9" fill="#fff" stroke="#e0603e" stroke-width="1.2"/>
<circle cx="115.9" cy="400.8" r="2.9" fill="#fff" stroke="#e0603e" stroke-width="1.2"/>
<circle cx="132.6" cy="423.7" r="2.9" fill="#fff" stroke="#e0603e" stroke-width="1.2"/>
<circle cx="149.3" cy="437.7" r="2.9" fill="#fff" stroke="#e0603e" stroke-width="1.2"/>
<circle cx="161.8" cy="451" r="2.9" fill="#fff" stroke="#e0603e" stroke-width="1.2"/>
<circle cx="170.2" cy="460.9" r="2.9" fill="#fff" stroke="#e0603e" stroke-width="1.2"/>
<circle cx="178.5" cy="467.6" r="2.9" fill="#fff" stroke="#e0603e" stroke-width="1.2"/>
<circle cx="186.8" cy="472.8" r="2.9" fill="#fff" stroke="#e0603e" stroke-width="1.2"/>
<circle cx="195.2" cy="477.2" r="2.9" fill="#fff" stroke="#e0603e" stroke-width="1.2"/>
<rect x="54.4" y="482.5" width="6.2" height="6.2" fill="#fff" stroke="#1f78c4" stroke-width="1.4"/>
<rect x="71.1" y="481.7" width="6.2" height="6.2" fill="#fff" stroke="#1f78c4" stroke-width="1.4"/>
<rect x="96.1" y="474.1" width="6.2" height="6.2" fill="#fff" stroke="#1f78c4" stroke-width="1.4"/>
<rect x="112.8" y="454.4" width="6.2" height="6.2" fill="#fff" stroke="#1f78c4" stroke-width="1.4"/>
<rect x="129.5" y="416.4" width="6.2" height="6.2" fill="#fff" stroke="#1f78c4" stroke-width="1.4"/>
<rect x="146.2" y="381.3" width="6.2" height="6.2" fill="#fff" stroke="#1f78c4" stroke-width="1.4"/>
<rect x="158.7" y="345.9" width="6.2" height="6.2" fill="#fff" stroke="#1f78c4" stroke-width="1.4"/>
<rect x="167.1" y="327.4" width="6.2" height="6.2" fill="#fff" stroke="#1f78c4" stroke-width="1.4"/>
<rect x="175.4" y="320.1" width="6.2" height="6.2" fill="#fff" stroke="#1f78c4" stroke-width="1.4"/>
<rect x="183.7" y="325.4" width="6.2" height="6.2" fill="#fff" stroke="#1f78c4" stroke-width="1.4"/>
<rect x="192.1" y="339.2" width="6.2" height="6.2" fill="#fff" stroke="#1f78c4" stroke-width="1.4"/>
<rect x="51.1" y="317.1" width="6.2" height="6.2" fill="#fff" stroke="#1f78c4" stroke-width="1.4"/>
<text x="62.7" y="324.4" font-size="10" text-anchor="start" fill="#141414" >479 nm</text>
<circle cx="54.2" cy="337.3" r="2.9" fill="#fff" stroke="#e0603e" stroke-width="1.2"/>
<text x="62.7" y="341" font-size="10" text-anchor="start" fill="#141414" >579 nm</text>
<text x="143.4" y="324.1" font-size="10" text-anchor="start" fill="#141414" >343 K</text>
<text x="244" y="305.4" font-size="12.5" text-anchor="start" fill="#141414" font-weight="bold" >d</text>
<rect x="266.3" y="309.3" width="181.5" height="195.9" fill="#0066ff"/>
<defs><clipPath id="clipd"><rect x="266.3" y="309.3" width="181.5" height="195.9"/></clipPath><filter id="bd" x="-10%" y="-10%" width="120%" height="120%"><feGaussianBlur stdDeviation="3"/></filter></defs>
<g clip-path="url(#clipd)"><g filter="url(#bd)">
<path d="M289.5,515 L289.8,456.2 L291.1,417 L293.5,387.6 L297.5,363.1 L301.5,356.2 L305.6,368 L310.3,392.5 L317,412.1 L326.4,426.8 L339.8,436.6 L349.9,434.6 L356.6,426.8 L363.3,420.9 L373.3,426.8 L386.8,446.4 L400.2,464 L413.6,483.6 L425.7,499.3 L432.4,515Z" fill="#0076ff"/>
<path d="M290.8,515 L291,475.8 L292.5,436.6 L294.8,409.2 L297.5,391.5 L300.2,385.6 L302.9,392.5 L306.2,407.2 L310.9,424.8 L316.3,436.6 L323,446.4 L333.1,456.2 L343.1,459.1 L350.5,446.4 L356.6,434.6 L362.6,428.8 L370,434.6 L380,451.3 L393.5,473.8 L405.5,491.5 L413.6,503.2 L417,515Z" fill="#0093ff"/>
<path d="M291.5,515 L291.8,485.6 L293.5,458.2 L296.2,440.5 L298.9,433.7 L301.5,431.7 L304.9,434.6 L309.6,441.5 L319.3,451.3 L325,460.1 L331.1,468.9 L339,480.7 L342.5,484.6 L348.8,478.7 L354.7,461.1 L358.6,452.3 L362.6,449.3 L366.6,451.3 L373.3,461.1 L380,473.8 L388.1,487.6 L396.2,498.3 L401.5,505.2 L402.9,515Z" fill="#00e8ff"/>
<path d="M292.1,515 L292.5,490.5 L294.2,468 L296.8,454.2 L300.6,449.3 L304.9,454.2 L315.4,465 L321,471.9 L327.2,478.7 L333.1,486.6 L337.8,493.4 L340.5,498.3 L342.5,500.3 L344.5,499.3 L347.8,491.5 L351.9,481.7 L357.2,472.9 L362.6,469.9 L368,472.9 L373.3,481.7 L378.7,493.4 L382.1,503.2 L383.4,515Z" fill="#00fa82"/>
<path d="M292.5,515 L292.8,495.4 L294.8,481.7 L297.5,474.8 L299.9,472.9 L303.6,475.8 L309.6,480.7 L319.3,486.6 L324.4,491.5 L329.2,496.4 L333.1,501.3 L335.1,505.2 L335.8,515Z M353.9,515 L355.2,504.2 L358.6,498.3 L362.6,496.9 L366.6,497.8 L370.7,504.2 L372,515Z" fill="#ccfb0c"/>
<path d="M292.8,515 L293.5,495.4 L296.2,483.6 L298.9,478.7 L302.2,480.7 L309.6,487.6 L316.3,493.4 L323,500.3 L327,515Z M357.9,515 L359.2,504 L363.9,503.4 L367.3,515Z" fill="#ff9f00"/>
<path d="M293.2,515 L293.8,497.4 L296.2,489.5 L298.7,485.6 L301.5,487.6 L306.2,493.4 L311.6,498.3 L316.3,501.8 L321,504.2 L322.3,515Z" fill="#ff2300"/>
</g></g>
<rect x="266.3" y="503.59999999999997" width="181.5" height="1.6" fill="#40b0ff" fill-opacity="0.35"/>
<path d="M266.3,505.7 V309.3 H447.8 V505.2 H266.3" fill="none" stroke="#333" stroke-width="0.6"/>
<line x1="263" y1="505.2" x2="266.3" y2="505.2" stroke="#a0a0a0" stroke-width="1" />
<text x="260.8" y="508.8" font-size="10" text-anchor="end" fill="#141414" >0</text>
<line x1="264.3" y1="456.2" x2="266.3" y2="456.2" stroke="#a0a0a0" stroke-width="1" />
<line x1="263" y1="407.2" x2="266.3" y2="407.2" stroke="#a0a0a0" stroke-width="1" />
<text x="260.8" y="410.8" font-size="10" text-anchor="end" fill="#141414" >1</text>
<line x1="264.3" y1="358.2" x2="266.3" y2="358.2" stroke="#a0a0a0" stroke-width="1" />
<line x1="263" y1="309.2" x2="266.3" y2="309.2" stroke="#a0a0a0" stroke-width="1" />
<text x="260.8" y="312.8" font-size="10" text-anchor="end" fill="#141414" >2</text>
<line x1="279.4" y1="505.2" x2="279.4" y2="508.8" stroke="#6e6e6e" stroke-width="1" />
<text x="279.4" y="520.7" font-size="10" text-anchor="middle" fill="#141414" >450</text>
<line x1="296.2" y1="505.2" x2="296.2" y2="507.2" stroke="#6e6e6e" stroke-width="1" />
<line x1="312.9" y1="505.2" x2="312.9" y2="508.8" stroke="#6e6e6e" stroke-width="1" />
<text x="312.9" y="520.7" font-size="10" text-anchor="middle" fill="#141414" >500</text>
<line x1="329.7" y1="505.2" x2="329.7" y2="507.2" stroke="#6e6e6e" stroke-width="1" />
<line x1="346.5" y1="505.2" x2="346.5" y2="508.8" stroke="#6e6e6e" stroke-width="1" />
<text x="346.5" y="520.7" font-size="10" text-anchor="middle" fill="#141414" >550</text>
<line x1="363.3" y1="505.2" x2="363.3" y2="507.2" stroke="#6e6e6e" stroke-width="1" />
<line x1="380" y1="505.2" x2="380" y2="508.8" stroke="#6e6e6e" stroke-width="1" />
<text x="380" y="520.7" font-size="10" text-anchor="middle" fill="#141414" >600</text>
<line x1="396.8" y1="505.2" x2="396.8" y2="507.2" stroke="#6e6e6e" stroke-width="1" />
<line x1="413.6" y1="505.2" x2="413.6" y2="508.8" stroke="#6e6e6e" stroke-width="1" />
<text x="413.6" y="520.7" font-size="10" text-anchor="middle" fill="#141414" >650</text>
<line x1="430.4" y1="505.2" x2="430.4" y2="507.2" stroke="#6e6e6e" stroke-width="1" />
<line x1="447.1" y1="505.2" x2="447.1" y2="508.8" stroke="#6e6e6e" stroke-width="1" />
<text x="447.1" y="520.7" font-size="10" text-anchor="middle" fill="#141414" >700</text>
<text x="351.7" y="535.3" font-size="10" text-anchor="middle" fill="#141414" >Wavelength (nm)</text>
<text x="251.6" y="409.4" font-size="10" text-anchor="middle" fill="#141414" transform="rotate(-90 251.6 409.4)">Time (s)</text>
<text x="479" y="305.8" font-size="12.5" text-anchor="start" fill="#141414" font-weight="bold" >e</text>
<defs><filter id="be" x="-10%" y="-10%" width="120%" height="120%"><feGaussianBlur stdDeviation="1.3"/></filter></defs>
<rect x="518.3" y="307.3" width="158.2" height="99.1" fill="#085ef6"/>
<defs><clipPath id="clipe307"><rect x="518.3" y="307.3" width="158.2" height="99.1"/></clipPath></defs>
<g clip-path="url(#clipe307)"><g filter="url(#be)">
<path d="M601,322 L606,320.5 L611,322 L612,326 L609,330 L611,334 L612,338 L610,341.5 L605,342.5 L600,341 L599,337 L601,331 L599,326Z" fill="#066bf8"/>
<path d="M532,356 L536,349 L545,347 L556,348 L568,351 L579,356 L584,362 L582,370 L572,379 L558,387 L548,394 L542,395 L537,388 L533,375 L531,364Z M586,360 L591,353 L602,351.5 L615,352 L628,354.5 L640,358 L646,362 L640,369 L626,377 L612,384 L602,387 L592,384 L587,376 L585,368Z M537,324.6 L539,319.5 L543,318.5 L547,320 L552,322 L562,322.5 L566,325 L562,327.5 L550,328 L548,331 L552,334 L562,335 L566,337.5 L562,340 L550,341 L547,343 L542,343.5 L538.5,341 L537.5,337 L539,331Z" fill="#028bfd"/>
<path d="M534.5,357 L538,352 L545,350.5 L553,351.5 L562,353.5 L571,357 L576,362 L575.5,368 L570,374 L560,380 L551,386 L545,392 L541,390 L538,382 L535,370 L533.8,362Z M590,360 L594,356 L602,354.5 L612,355 L622,357 L631,360 L634,363 L630,368 L620,374 L610,380 L603,383 L596,381 L591,375 L589,367Z M539.5,324.6 L542.8,321 L546,324.6 L542.8,328.2Z M541,336.9 L544.5,333.3 L548,336.9 L544.5,340.5Z" fill="#00e8ff"/>
<path d="M537,360 L540,355.5 L548,355 L556,356.5 L562,358.5 L566.5,362 L567.5,368 L565,373 L557,376.5 L550,379 L545,382 L540,381 L537.5,375 L536.5,367Z M597,362 L600,358.5 L608,358 L614,360 L616,366 L613,372 L606,374.5 L599,373.5 L596,368Z" fill="#fff500"/>
<path d="M538,360 L541,355.5 L549,355 L552.5,359 L553,366 L550,372 L546,376.5 L541,376.5 L538,370Z" fill="#ff0000"/>
<path d="M541,360 L544,358 L547,359.5 L547.5,364 L545,367 L542,366Z" fill="#d30000"/>
</g></g>
<rect x="518.3" y="408.6" width="158.2" height="100" fill="#085ef6"/>
<defs><clipPath id="clipe408"><rect x="518.3" y="408.6" width="158.2" height="100"/></clipPath></defs>
<g clip-path="url(#clipe408)"><g filter="url(#be)">
<path d="M538,430 L546,428 L548,447 L538,447Z M548,414 L558,410 L566,416 L566,440 L556,444 L548,436Z" fill="#0574fa"/>
<path d="M529.5,456 L534,448 L545,446.5 L558,447.5 L572,451 L582,457 L585,462 L580,470 L568,478 L556,486 L547,495 L542,497.5 L536,492 L531,480 L528.5,467Z M512,420 L532,405 L562,405 L552,420 L540,432 L530,442 L512,452Z" fill="#028bfd"/>
<path d="M532,456 L536,451 L545,449.5 L555,450.5 L566,453 L574,457 L576.5,462 L574,468 L565,474 L556,479 L549,485 L544,490.5 L539,488 L535,480 L531.5,470 L530.5,462Z M536.5,406 L556.5,406 L556.5,409.2 L549.5,420.8 L541.4,431.4 L529.7,439.5 L518,446.5 L512,450 L512,428 L518,426.7 L528.5,416.2Z M638,511 L649,511 L678,498.5 L678,489.5 L661,497.5 L646,505Z" fill="#00e8ff"/>
<path d="M645,509 L650,509 L678,496 L678,492.5 L660,500Z" fill="#00f4ac"/>
<path d="M536,458 L540,454.5 L550,454 L560,456 L566,459 L568,464 L567,470 L560,474 L551,477 L545,480.5 L540,480 L536.5,473 L535.5,465Z M540.5,406 L552,406 L551.4,409.2 L544.4,419.7 L536.2,427.9 L527,434.6 L518,441.4 L512,444.5 L512,436 L518,433.8 L523.5,428.7 L532.8,418.1 L541.2,409.5Z" fill="#fff500"/>
<path d="M533.5,425 L537.5,419 L542,414.5 L543.5,415.5 L540,421 L535,426Z" fill="#ff6800"/>
<path d="M538.5,460 L542,457 L548,457 L552,460 L552.5,466 L549,472 L544,476 L540,475 L537.5,468Z" fill="#ff0000"/>
<path d="M541,461 L544,459 L547,460.5 L547.5,465 L545,468 L542,467Z" fill="#d30000"/>
</g></g>
<line x1="518.3" y1="407.6" x2="676.5" y2="407.6" stroke="#d6d0ca" stroke-width="1.4"/>
<line x1="518.3" y1="362.2" x2="676.5" y2="362.2" stroke="#ffffff" stroke-opacity="0.8" stroke-width="0.8" stroke-dasharray="2.6,2"/>
<line x1="518.3" y1="463.1" x2="676.5" y2="463.1" stroke="#ffffff" stroke-opacity="0.8" stroke-width="0.8" stroke-dasharray="2.6,2"/>
<line x1="543.2" y1="362.2" x2="543.2" y2="406.4" stroke="#ffffff" stroke-opacity="0.8" stroke-width="0.8" stroke-dasharray="2.6,2"/>
<line x1="543.2" y1="408.6" x2="543.2" y2="508.6" stroke="#ffffff" stroke-opacity="0.8" stroke-width="0.8" stroke-dasharray="2.6,2"/>
<line x1="604.5" y1="362.2" x2="604.5" y2="406.4" stroke="#ffffff" stroke-opacity="0.8" stroke-width="0.8" stroke-dasharray="2.6,2"/>
<line x1="604.5" y1="408.6" x2="604.5" y2="508.6" stroke="#ffffff" stroke-opacity="0.8" stroke-width="0.8" stroke-dasharray="2.6,2"/>
<rect x="518.3" y="307.3" width="158.2" height="99.1" fill="none" stroke="#333" stroke-width="0.6"/>
<rect x="518.3" y="408.6" width="158.2" height="100" fill="none" stroke="#333" stroke-width="0.6"/>
<line x1="514.6" y1="395.1" x2="518.3" y2="395.1" stroke="#6e6e6e" stroke-width="1" />
<text x="512.3" y="398.7" font-size="10" text-anchor="end" fill="#141414" >340</text>
<line x1="514.6" y1="373.2" x2="518.3" y2="373.2" stroke="#6e6e6e" stroke-width="1" />
<text x="512.3" y="376.8" font-size="10" text-anchor="end" fill="#141414" >380</text>
<line x1="514.6" y1="351.2" x2="518.3" y2="351.2" stroke="#6e6e6e" stroke-width="1" />
<text x="512.3" y="354.8" font-size="10" text-anchor="end" fill="#141414" >420</text>
<line x1="514.6" y1="329.3" x2="518.3" y2="329.3" stroke="#6e6e6e" stroke-width="1" />
<text x="512.3" y="332.9" font-size="10" text-anchor="end" fill="#141414" >460</text>
<line x1="514.6" y1="307.3" x2="518.3" y2="307.3" stroke="#6e6e6e" stroke-width="1" />
<text x="512.3" y="310.9" font-size="10" text-anchor="end" fill="#141414" >500</text>
<line x1="514.6" y1="508.9" x2="518.3" y2="508.9" stroke="#6e6e6e" stroke-width="1" />
<text x="512.3" y="512.5" font-size="10" text-anchor="end" fill="#141414" >320</text>
<line x1="514.6" y1="485.4" x2="518.3" y2="485.4" stroke="#6e6e6e" stroke-width="1" />
<text x="512.3" y="489" font-size="10" text-anchor="end" fill="#141414" >360</text>
<line x1="514.6" y1="461.9" x2="518.3" y2="461.9" stroke="#6e6e6e" stroke-width="1" />
<text x="512.3" y="465.5" font-size="10" text-anchor="end" fill="#141414" >400</text>
<line x1="514.6" y1="438.4" x2="518.3" y2="438.4" stroke="#6e6e6e" stroke-width="1" />
<text x="512.3" y="442" font-size="10" text-anchor="end" fill="#141414" >440</text>
<line x1="514.6" y1="414.9" x2="518.3" y2="414.9" stroke="#6e6e6e" stroke-width="1" />
<text x="512.3" y="418.5" font-size="10" text-anchor="end" fill="#141414" >480</text>
<line x1="523.6" y1="508.6" x2="523.6" y2="511.6" stroke="#6e6e6e" stroke-width="1" />
<line x1="523.6" y1="406.4" x2="523.6" y2="404.9" stroke="#333" stroke-width="0.8" />
<line x1="523.6" y1="408.6" x2="523.6" y2="410.1" stroke="#333" stroke-width="0.8" />
<line x1="554.2" y1="508.6" x2="554.2" y2="511.6" stroke="#6e6e6e" stroke-width="1" />
<text x="555" y="522.2" font-size="10" text-anchor="middle" fill="#141414" >500</text>
<line x1="554.2" y1="406.4" x2="554.2" y2="403.9" stroke="#333" stroke-width="0.8" />
<line x1="554.2" y1="408.6" x2="554.2" y2="411.1" stroke="#333" stroke-width="0.8" />
<line x1="584.9" y1="508.6" x2="584.9" y2="511.6" stroke="#6e6e6e" stroke-width="1" />
<line x1="584.9" y1="406.4" x2="584.9" y2="404.9" stroke="#333" stroke-width="0.8" />
<line x1="584.9" y1="408.6" x2="584.9" y2="410.1" stroke="#333" stroke-width="0.8" />
<line x1="615.5" y1="508.6" x2="615.5" y2="511.6" stroke="#6e6e6e" stroke-width="1" />
<text x="616.3" y="522.2" font-size="10" text-anchor="middle" fill="#141414" >600</text>
<line x1="615.5" y1="406.4" x2="615.5" y2="403.9" stroke="#333" stroke-width="0.8" />
<line x1="615.5" y1="408.6" x2="615.5" y2="411.1" stroke="#333" stroke-width="0.8" />
<line x1="646.2" y1="508.6" x2="646.2" y2="511.6" stroke="#6e6e6e" stroke-width="1" />
<line x1="646.2" y1="406.4" x2="646.2" y2="404.9" stroke="#333" stroke-width="0.8" />
<line x1="646.2" y1="408.6" x2="646.2" y2="410.1" stroke="#333" stroke-width="0.8" />
<line x1="676.8" y1="508.6" x2="676.8" y2="511.6" stroke="#6e6e6e" stroke-width="1" />
<text x="677.6" y="522.2" font-size="10" text-anchor="middle" fill="#141414" >700</text>
<line x1="676.8" y1="406.4" x2="676.8" y2="403.9" stroke="#333" stroke-width="0.8" />
<line x1="676.8" y1="408.6" x2="676.8" y2="411.1" stroke="#333" stroke-width="0.8" />
<text x="594.2" y="536.3" font-size="10" text-anchor="middle" fill="#141414" >Emission wavelength (nm)</text>
<text x="489.3" y="424.4" font-size="10" text-anchor="middle" fill="#141414" transform="rotate(-90 489.3 424.4)">Excitation wavelength (nm)</text>
<text x="638.7" y="320.7" font-size="10" text-anchor="start" fill="#ffffff" >298 K</text>
<text x="637.2" y="357.9" font-size="10" text-anchor="start" fill="#ffffff" >400 nm</text>
<text x="546.9" y="402.8" font-size="10" text-anchor="start" fill="#ffffff" >482 nm</text>
<text x="607.6" y="402.8" font-size="10" text-anchor="start" fill="#ffffff" >582 nm</text>
<text x="638.7" y="420.4" font-size="10" text-anchor="start" fill="#ffffff" >348 K</text>
<text x="637.2" y="460.3" font-size="10" text-anchor="start" fill="#ffffff" >398 nm</text>
</svg></body></html>
